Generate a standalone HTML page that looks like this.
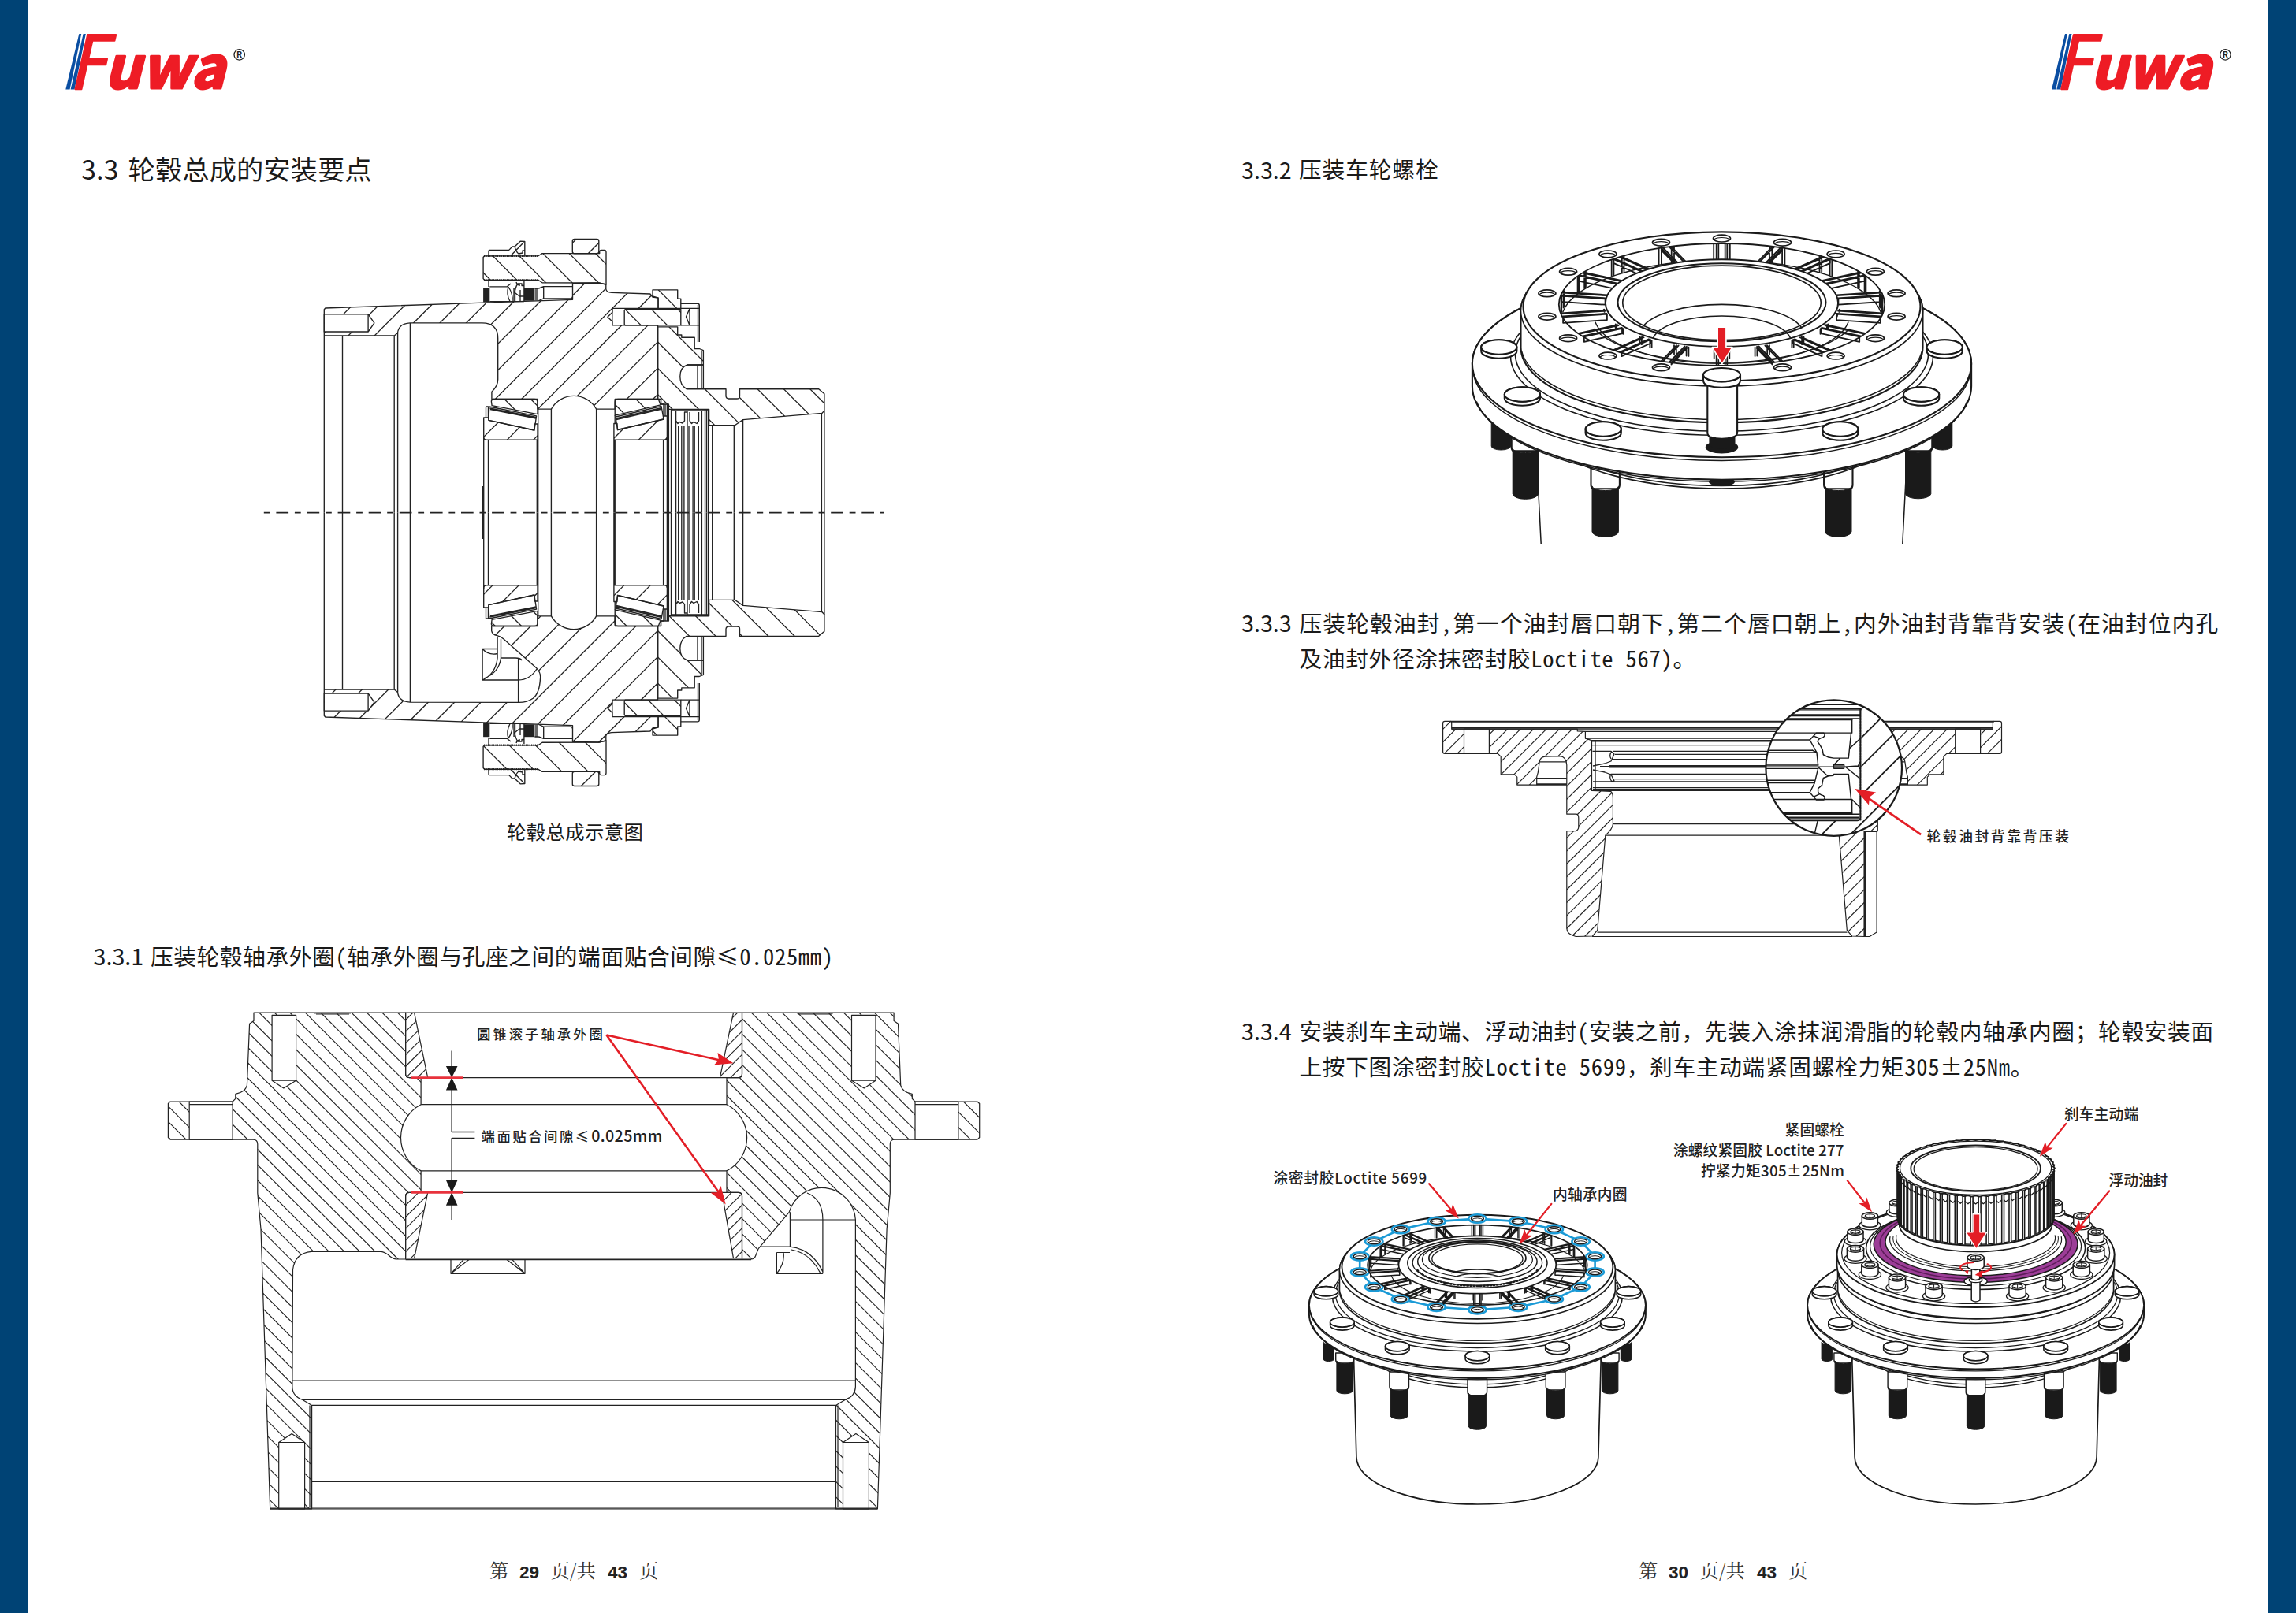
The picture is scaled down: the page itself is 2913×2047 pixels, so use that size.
<!DOCTYPE html>
<html lang="zh-CN">
<head>
<meta charset="utf-8">
<title>Fuwa 3.3 轮毂总成的安装要点</title>
<style>
html,body{margin:0;padding:0;background:#fff;}
body{width:2913px;height:2047px;position:relative;overflow:hidden;font-family:"Liberation Sans","Noto Sans CJK SC",sans-serif;color:#1a1a1a;}
.bar{position:absolute;top:0;width:35px;height:2047px;background:#004375;}
.t{position:absolute;white-space:nowrap;line-height:1;}
.h1{font-size:34.2px;font-family:"Noto Sans CJK SC","Liberation Sans",sans-serif;}
.b{font-size:28.7px;font-family:"Noto Sans CJK SC","Liberation Sans",sans-serif;}
.sp{letter-spacing:0.68px;}
.h1.sp{letter-spacing:0.2px;}
.m{display:inline-block;white-space:nowrap;font-family:"Noto Sans Mono CJK SC","Liberation Mono",monospace;}
.cap{font-size:24.4px;font-family:"Noto Sans CJK SC","Liberation Sans",sans-serif;}
.ft{font-size:24.4px;font-family:"Noto Serif CJK SC","Liberation Serif",serif;color:#333;}
.ftb{font-family:"Liberation Sans","Noto Sans CJK SC",sans-serif;font-weight:bold;color:#222;font-size:22.6px;}
svg.dw{position:absolute;left:0;top:0;width:2913px;height:2047px;overflow:visible;}
svg text{font-family:"Noto Sans CJK SC","Liberation Sans",sans-serif;}
</style>
</head>
<body>
<div class="bar" style="left:0"></div>
<div class="bar" style="left:2878px"></div>

<!-- LOGOS -->
<svg class="dw" viewBox="0 0 2913 2047" id="logos">
<defs>
<g id="logo">
<polygon points="17.3,0 20.2,0 5.6,70.6 0.3,70.6" fill="#0a4ea2"/>
<polygon points="22.6,0 25.8,0 11.6,70.6 6.6,70.6" fill="#0a4ea2"/>
<text x="4" y="69.6" font-family="Liberation Sans, sans-serif" font-weight="normal" font-style="italic" font-size="94" fill="#ee1c25" stroke="#ee1c25" stroke-width="2.4" stroke-linejoin="round" textLength="47" lengthAdjust="spacingAndGlyphs">F</text>
<text x="49.3" y="69.1" font-family="Liberation Sans, sans-serif" font-weight="bold" font-style="italic" font-size="73" fill="#ee1c25" stroke="#ee1c25" stroke-width="3" stroke-linejoin="round" textLength="153" lengthAdjust="spacingAndGlyphs">uwa</text>
<circle cx="220.7" cy="26.4" r="6.7" fill="none" stroke="#222" stroke-width="1.3"/>
<text x="220.7" y="30.3" font-family="Liberation Sans, sans-serif" font-weight="bold" font-size="10.5" fill="#222" text-anchor="middle">R</text>
</g>
</defs>
<use href="#logo" x="83" y="43"/>
<use href="#logo" x="2602.7" y="43"/>
</svg>

<!-- TEXT -->
<div class="t h1" style="left:103px;top:196px;">3.3</div>
<div class="t h1 sp" style="left:162.5px;top:196px;">轮毂总成的安装要点</div>
<div class="t cap" style="left:643px;top:1042.5px;letter-spacing:0.35px;">轮毂总成示意图</div>
<div class="t b" style="left:118.5px;top:1199px;">3.3.1</div>
<div class="t b sp" style="left:191px;top:1199px;letter-spacing:0.6px;">压装轮毂轴承外圈<span class="m" style="width:14.95px">(</span>轴承外圈与孔座之间的端面贴合间隙≤<span class="m" style="width:119.56px">0.025mm)</span></div>

<div class="t b" style="left:1575px;top:200.5px;">3.3.2</div>
<div class="t b sp" style="left:1648px;top:200px;letter-spacing:0.9px;">压装车轮螺栓</div>
<div class="t b" style="left:1575px;top:775.5px;">3.3.3</div>
<div class="t b sp" style="left:1648.5px;top:775.5px;letter-spacing:1.17px;">压装轮毂油封<span class="m" style="width:15.52px">,</span>第一个油封唇口朝下<span class="m" style="width:15.52px">,</span>第二个唇口朝上<span class="m" style="width:15.52px">,</span>内外油封背靠背安装<span class="m" style="width:15.52px">(</span>在油封位内孔</div>
<div class="t b sp" style="left:1648.5px;top:820.5px;">及油封外径涂抹密封胶<span class="m" style="width:180.3px">Loctite 567)</span>。</div>
<div class="t b" style="left:1575px;top:1294px;">3.3.4</div>
<div class="t b sp" style="left:1648.5px;top:1294px;">安装刹车主动端、浮动油封<span class="m" style="width:15.03px">(</span>安装之前，先装入涂抹润滑脂的轮毂内轴承内圈；轮毂安装面</div>
<div class="t b sp" style="left:1648.5px;top:1339px;">上按下图涂密封胶<span class="m" style="width:180.3px">Loctite 5699</span>，刹车主动端紧固螺栓力矩<span class="m" style="width:45.08px">305</span>±<span class="m" style="width:60.11px">25Nm</span>。</div>

<div class="t ft" style="left:621px;top:1980px;">第</div><div class="t ftb" style="left:659px;top:1984.5px;">29</div><div class="t ft" style="left:698.5px;top:1980px;">页/共</div><div class="t ftb" style="left:771px;top:1984.5px;">43</div><div class="t ft" style="left:811px;top:1980px;">页</div>
<div class="t ft" style="left:2079px;top:1980px;">第</div><div class="t ftb" style="left:2117px;top:1984.5px;">30</div><div class="t ft" style="left:2156.5px;top:1980px;">页/共</div><div class="t ftb" style="left:2229px;top:1984.5px;">43</div><div class="t ft" style="left:2269px;top:1980px;">页</div>

<svg width="0" height="0" style="position:absolute"><defs>
<pattern id="hA" width="23.6" height="23.6" patternUnits="userSpaceOnUse" patternTransform="rotate(-45)"><line x1="0" y1="0" x2="23.6" y2="0" stroke="#222" stroke-width="1.55"/></pattern>
<pattern id="hB" width="23.6" height="23.6" patternUnits="userSpaceOnUse" patternTransform="rotate(45)"><line x1="0" y1="0" x2="23.6" y2="0" stroke="#222" stroke-width="1.55"/></pattern>
<pattern id="hAm" width="23.6" height="23.6" patternUnits="userSpaceOnUse" patternTransform="rotate(45)"><line x1="0" y1="0" x2="23.6" y2="0" stroke="#222" stroke-width="1.55"/></pattern>
<pattern id="hBm" width="23.6" height="23.6" patternUnits="userSpaceOnUse" patternTransform="rotate(-45)"><line x1="0" y1="0" x2="23.6" y2="0" stroke="#222" stroke-width="1.55"/></pattern>
</defs></svg>
<svg class="dw" viewBox="0 0 2913 2047" id="drawA">
<g fill="none" stroke="#222" stroke-width="1.35" stroke-linejoin="round">
<g>
<!-- hub body -->
<clipPath id="hc1"><path d="M411.3,392.8 L412.8,391 L613.4,384.1 L726.5,380.3 L726.5,359.7 L760,359 L768.8,361 L768.8,367 Q769.5,371 776,371.4 L824.9,373 L828,377 L835,378 L835,391.4 L776.8,391.4 L776.8,396.5 L770.9,402.2 L776.8,407.9 L776.8,412.9 L834.6,412.9 L834.6,506.5 L780.2,506.5 L780.2,519.1 L756.6,519.1 A32.8,32.8 0 0 0 699.4,519.1 L682,519.1 L682,506.5 L623.9,506.5 L623.9,497.3 Q631.7,490 631.7,481.6 L631.7,429.4 Q631.7,409.9 611.7,409.9 L520.2,409.9 Q506,410.5 504.5,422.4 L500.2,425.9 L411.3,425.9 Z"/></clipPath><path clip-path="url(#hc1)" fill="none" stroke="#222" stroke-width="1.3" d="M215.7,551.9L408.6,359.0M249.1,551.9L442.0,359.0M282.5,551.9L475.4,359.0M315.9,551.9L508.8,359.0M349.2,551.9L542.1,359.0M382.6,551.9L575.5,359.0M416.0,551.9L608.9,359.0M449.4,551.9L642.3,359.0M482.7,551.9L675.6,359.0M516.1,551.9L709.0,359.0M549.5,551.9L742.4,359.0M582.9,551.9L775.8,359.0M616.2,551.9L809.1,359.0M649.6,551.9L842.5,359.0M683.0,551.9L875.9,359.0M716.4,551.9L909.3,359.0M749.7,551.9L942.6,359.0M783.1,551.9L976.0,359.0M816.5,551.9L1009.4,359.0M849.9,551.9L1042.8,359.0"/><path fill="none"  d="M411.3,392.8 L412.8,391 L613.4,384.1 L726.5,380.3 L726.5,359.7 L760,359 L768.8,361 L768.8,367 Q769.5,371 776,371.4 L824.9,373 L828,377 L835,378 L835,391.4 L776.8,391.4 L776.8,396.5 L770.9,402.2 L776.8,407.9 L776.8,412.9 L834.6,412.9 L834.6,506.5 L780.2,506.5 L780.2,519.1 L756.6,519.1 A32.8,32.8 0 0 0 699.4,519.1 L682,519.1 L682,506.5 L623.9,506.5 L623.9,497.3 Q631.7,490 631.7,481.6 L631.7,429.4 Q631.7,409.9 611.7,409.9 L520.2,409.9 Q506,410.5 504.5,422.4 L500.2,425.9 L411.3,425.9 Z"/>
<path fill="#fff" d="M411.3,398.9 L467.1,398.9 L474.9,409.9 L467.1,421 L411.3,421 Z"/>
<path fill="none" d="M467.1,398.9 V421"/>

<!-- flange part above stud -->
<clipPath id="hc2"><path d="M728.8,303.5 L757.3,303.5 Q759.8,303.5 759.8,306 L759.8,319.3 Q759.8,321.8 757.3,321.8 L728.8,321.8 Q726.3,321.8 726.3,319.3 L726.3,306 Q726.3,303.5 728.8,303.5 Z"/></clipPath><path clip-path="url(#hc2)" fill="none" stroke="#222" stroke-width="1.3" d="M679.5,321.8L697.8,303.5M712.8,321.8L731.1,303.5M746.2,321.8L764.5,303.5M779.6,321.8L797.9,303.5"/><path fill="none"  d="M728.8,303.5 L757.3,303.5 Q759.8,303.5 759.8,306 L759.8,319.3 Q759.8,321.8 757.3,321.8 L728.8,321.8 Q726.3,321.8 726.3,319.3 L726.3,306 Q726.3,303.5 728.8,303.5 Z"/>
<!-- wheel stud -->
<clipPath id="hc3"><path d="M613.1,326.5 L614.6,324.8 L682.8,324.8 L688,321.6 L760.7,321.6 L760.7,319 Q761,317.4 763,317.4 L767,317.4 Q769,317.6 769,320 L769,361 L760,359 L688,358.8 L682.8,355.3 L614.6,355.3 L613.1,353.6 Z"/></clipPath><path clip-path="url(#hc3)" fill="none" stroke="#222" stroke-width="1.3" d="M551.0,317.4L594.6,361.0M584.4,317.4L628.0,361.0M617.8,317.4L661.4,361.0M651.2,317.4L694.8,361.0M684.5,317.4L728.1,361.0M717.9,317.4L761.5,361.0M751.3,317.4L794.9,361.0M784.7,317.4L828.3,361.0"/><path fill="none"  d="M613.1,326.5 L614.6,324.8 L682.8,324.8 L688,321.6 L760.7,321.6 L760.7,319 Q761,317.4 763,317.4 L767,317.4 Q769,317.6 769,320 L769,361 L760,359 L688,358.8 L682.8,355.3 L614.6,355.3 L613.1,353.6 Z"/>
<path fill="none" stroke-width="2.2" stroke-dasharray="1.2 1.2" d="M614,324.8 H682 M614,355.3 H682"/>
<!-- nut / clip on top -->
<path fill="none" d="M620,324.5 V318.5 Q620,317.4 621.2,317.4 L645.7,317.4 L650,313 L653,313 L660.1,306.2 L665.8,306.5 L665.8,324.5 M648,324.5 L664.5,307.5 M653,313 Q655,320 658,322 L663,321 L663,318 L665.5,318"/>
<!-- below stud items -->
<rect x="613.1" y="365.8" width="8.2" height="17.6" fill="#222" stroke="none"/>
<rect x="664.9" y="365.8" width="13.5" height="15.9" fill="#222" stroke="none"/>
<path fill="none" d="M620,355.5 V364 M621.3,363.8 H645 M621.3,382.6 H664.9 M645,364 Q642,373 647,382.5 M645,364 Q651,373 650,382.5 M648,360 L643,364 M652,366 V382.5 M653.5,366 V382.5 M660,368 V382.5 M664.9,357 V382 M655,358 Q656,362 660,362 M653,372 Q654,364 657,360 L662,360 L662,362.5 L664.5,362.5 M654,372 L659,376 L664.5,376 M678.4,366 H683.6 M680,366 V381.5 M682,366 V381.5 M683.6,366 L689.7,363.6 H726.3 M683.6,381.5 L689.7,378.9 H724 Q726.3,378.9 726.3,376.5 M689.7,363.6 V378.9"/>
<!-- left side vertical lines -->
<path fill="none" d="M411.3,425.9 V650.5 M434.5,425.9 V650.5 M500.2,425.9 V650.5 M504.6,422.4 V650.5 M520.4,410 V650.5"/>
<!-- right bolt -->
<clipPath id="hc4"><path d="M828,367.9 L859.7,367.9 L859.7,379.1 L863.8,379.1 L863.8,391.4 L835.1,391.4 L835.1,378.1 L828,376 Z"/></clipPath><path clip-path="url(#hc4)" fill="none" stroke="#222" stroke-width="1.3" d="M801.8,367.9L825.3,391.4M835.2,367.9L858.7,391.4M868.5,367.9L892.0,391.4"/><path fill="none"  d="M828,367.9 L859.7,367.9 L859.7,379.1 L863.8,379.1 L863.8,391.4 L835.1,391.4 L835.1,378.1 L828,376 Z"/>
<clipPath id="hc5"><path d="M792.2,393.5 L793.5,392.4 L863.8,392.4 L863.8,412.9 L793.5,412.9 L792.2,411.8 Z"/></clipPath><path clip-path="url(#hc5)" fill="none" stroke="#222" stroke-width="1.3" d="M759.5,392.4L780.0,412.9M792.9,392.4L813.4,412.9M826.3,392.4L846.8,412.9M859.7,392.4L880.2,412.9M893.0,392.4L913.5,412.9"/><path fill="none"  d="M792.2,393.5 L793.5,392.4 L863.8,392.4 L863.8,412.9 L793.5,412.9 L792.2,411.8 Z"/>
<path fill="none" d="M776.8,391.4 V412.9 M863.8,385.2 H885 Q887.3,385.2 887.3,387.5 V434 M863.8,391.4 H887.3 M863.8,412.9 H887.3 M875,391.4 V412.9 M875,391.4 L870.5,402 L875,412.9 M885.5,387 V434"/>
<!-- cover + tube -->
<clipPath id="hc6"><path d="M834.6,414.9 L859.7,414.9 L859.7,425 L864.8,425 L864.8,428.2 L881.2,428.2 L881.2,442.5 L887.3,442.5 L892.4,444.6 L892.4,463 L872,463 Q862.8,466 862.8,478 Q862.8,489 871,493.7 L921,493.7 L921,503 Q921.5,506 924.5,506 L935,506 Q938.5,506 938.5,503 L938.5,493.7 L1038.7,493.7 L1045.9,499.8 L1045.9,521.3 L1042.8,524.4 L942.6,532.6 L932.3,539.7 L899.6,539.7 L899.6,519.3 L848.4,519.3 L848.4,513 L838.5,513 L838.5,506.5 L834.6,506.5 Z"/></clipPath><path clip-path="url(#hc6)" fill="none" stroke="#222" stroke-width="1.3" d="M681.9,414.9L806.7,539.7M715.3,414.9L840.1,539.7M748.7,414.9L873.5,539.7M782.0,414.9L906.8,539.7M815.4,414.9L940.2,539.7M848.8,414.9L973.6,539.7M882.2,414.9L1007.0,539.7M915.5,414.9L1040.3,539.7M948.9,414.9L1073.7,539.7M982.3,414.9L1107.1,539.7M1015.7,414.9L1140.5,539.7M1049.0,414.9L1173.8,539.7"/><path fill="none"  d="M834.6,414.9 L859.7,414.9 L859.7,425 L864.8,425 L864.8,428.2 L881.2,428.2 L881.2,442.5 L887.3,442.5 L892.4,444.6 L892.4,463 L872,463 Q862.8,466 862.8,478 Q862.8,489 871,493.7 L921,493.7 L921,503 Q921.5,506 924.5,506 L935,506 Q938.5,506 938.5,503 L938.5,493.7 L1038.7,493.7 L1045.9,499.8 L1045.9,521.3 L1042.8,524.4 L942.6,532.6 L932.3,539.7 L899.6,539.7 L899.6,519.3 L848.4,519.3 L848.4,513 L838.5,513 L838.5,506.5 L834.6,506.5 Z"/>
<path fill="none" d="M872,463 H892.4 V493.7 M885,463 V493.7 M890,445 V493"/>
<!-- bearing inner (left) -->
<clipPath id="hc7"><path d="M623.4,509.5 Q623.4,506.5 626.4,506.5 L678,506.5 Q682,506.5 682,510.5 L682,525.7 L624.1,514.6 Z"/></clipPath><path clip-path="url(#hc7)" fill="none" stroke="#222" stroke-width="1.3" d="M573.3,506.5L592.5,525.7M606.6,506.5L625.8,525.7M640.0,506.5L659.2,525.7M673.4,506.5L692.6,525.7M706.8,506.5L726.0,525.7"/><path fill="none"  d="M623.4,509.5 Q623.4,506.5 626.4,506.5 L678,506.5 Q682,506.5 682,510.5 L682,525.7 L624.1,514.6 Z"/>
<path fill="#fff" d="M620.7,516 L680.6,527.8 L677.9,546 L620,533.4 Z"/>
<path fill="none" d="M621.5,518 L680,529.5 M622,519.5 L680,531"/>
<clipPath id="hc8"><path d="M613.7,530 L619.5,530 L620,533.4 L677.8,546 L678.5,538 L682,538 L682,558.1 L617,558.1 Q613.7,558.1 613.7,554.8 Z"/></clipPath><path clip-path="url(#hc8)" fill="none" stroke="#222" stroke-width="1.3" d="M576.7,558.1L604.8,530.0M610.0,558.1L638.1,530.0M643.4,558.1L671.5,530.0M676.8,558.1L704.9,530.0M710.2,558.1L738.3,530.0"/><path fill="none"  d="M613.7,530 L619.5,530 L620,533.4 L677.8,546 L678.5,538 L682,538 L682,558.1 L617,558.1 Q613.7,558.1 613.7,554.8 Z"/>
<path fill="none" d="M616.5,516 H619.5 V530 M616.5,516 V530"/>
<path fill="none" d="M613.7,554 V650.5 M619.5,558.1 V650.5 M681.3,558.1 V650.5 M682.7,519.1 V650.5 M699.4,519.1 V650.5 M756.6,519.1 V650.5 M612.3,617 V650.5"/>
<!-- bearing outer (right) -->
<clipPath id="hc9"><path d="M780.2,510.5 Q780.2,506.5 784.2,506.5 L835.3,506.5 L838.1,513.9 L780.2,527.1 Z"/></clipPath><path clip-path="url(#hc9)" fill="none" stroke="#222" stroke-width="1.3" d="M740.1,506.5L760.7,527.1M773.5,506.5L794.1,527.1M806.9,506.5L827.5,527.1M840.3,506.5L860.9,527.1"/><path fill="none"  d="M780.2,510.5 Q780.2,506.5 784.2,506.5 L835.3,506.5 L838.1,513.9 L780.2,527.1 Z"/>
<path fill="#fff" d="M781,529 L839,515.5 L842,532 L783.5,545.5 Z"/>
<path fill="none" d="M781.5,531 L839.5,517.5 M782,532.5 L840,519"/>
<clipPath id="hc10"><path d="M778.9,537.5 L783,537.5 L783.5,545.5 L842,532 L842,528 L846.4,528 L846.4,555 Q846.4,558.1 843.3,558.1 L778.9,558.1 Z"/></clipPath><path clip-path="url(#hc10)" fill="none" stroke="#222" stroke-width="1.3" d="M743.5,558.1L773.6,528.0M776.9,558.1L807.0,528.0M810.3,558.1L840.4,528.0M843.7,558.1L873.8,528.0M877.0,558.1L907.1,528.0"/><path fill="none"  d="M778.9,537.5 L783,537.5 L783.5,545.5 L842,532 L842,528 L846.4,528 L846.4,555 Q846.4,558.1 843.3,558.1 L778.9,558.1 Z"/>
<path fill="none" d="M838.5,506.5 V513 H842 V528 M844,513 V528 M846.4,513 V528"/>
<path fill="none" d="M778.9,558.1 V650.5 M780.2,527 V537.5 M780.2,558.1 V650.5 M841.6,558.1 V650.5 M846.4,555 V650.5"/>
<!-- seals -->
<path fill="none" d="M848.4,519.3 V650.5 M851.5,519.3 V650.5 M857.6,521 V650.5 M860.7,540 V650.5 M864.8,540 V650.5 M867.9,540 V650.5 M872,521 V650.5 M874,540 V650.5 M879.1,540 V650.5 M881.2,540 V650.5 M886.3,540 V650.5 M890.4,521 V650.5 M894.5,519.3 V650.5 M896.5,519.3 V650.5 M898.6,519.3 V650.5 M851.5,521 H898 M857.6,521 V534 L860,537.5 L862,535.5 L866,537 L868.5,534 V523 H872 M875,523 V534 L877.5,537.5 L880,535.5 L884,537.5 L886.5,534 V523"/>
<!-- tube inner verticals -->
<path fill="none" d="M903.7,539.7 V650.5 M931.3,539.7 V650.5 M942.6,532.6 V650.5 M1042.4,524.4 V650.5 M1045.9,521 V650.5"/>
</g>
<g transform="translate(0,1301.0) scale(1,-1)">
<!-- hub body -->
<clipPath id="hc11"><path d="M411.3,392.8 L412.8,391 L613.4,384.1 L726.5,380.3 L726.5,359.7 L760,359 L768.8,361 L768.8,367 Q769.5,371 776,371.4 L824.9,373 L828,377 L835,378 L835,391.4 L776.8,391.4 L776.8,396.5 L770.9,402.2 L776.8,407.9 L776.8,412.9 L834.6,412.9 L834.6,506.5 L780.2,506.5 L780.2,519.1 L756.6,519.1 A32.8,32.8 0 0 0 699.4,519.1 L682,519.1 L682,506.5 L623.7,506.5 L623.7,500.3 Q624.5,495.5 630.7,494.3 Q635,493.5 639,490.1 L680.9,452.9 Q686.5,447 685.5,439.9 Q684.5,421 676.2,414.8 Q669,409.7 658.6,409.7 L520.2,409.9 Q506,410.5 504.5,422.4 L500.2,425.9 L411.3,425.9 Z"/></clipPath><path clip-path="url(#hc11)" fill="none" stroke="#222" stroke-width="1.3" d="M192.1,359.0L385.0,551.9M225.5,359.0L418.4,551.9M258.9,359.0L451.8,551.9M292.2,359.0L485.1,551.9M325.6,359.0L518.5,551.9M359.0,359.0L551.9,551.9M392.4,359.0L585.3,551.9M425.8,359.0L618.7,551.9M459.1,359.0L652.0,551.9M492.5,359.0L685.4,551.9M525.9,359.0L718.8,551.9M559.3,359.0L752.2,551.9M592.6,359.0L785.5,551.9M626.0,359.0L818.9,551.9M659.4,359.0L852.3,551.9M692.8,359.0L885.7,551.9M726.1,359.0L919.0,551.9M759.5,359.0L952.4,551.9M792.9,359.0L985.8,551.9M826.3,359.0L1019.2,551.9M859.6,359.0L1052.5,551.9"/><path fill="none"  d="M411.3,392.8 L412.8,391 L613.4,384.1 L726.5,380.3 L726.5,359.7 L760,359 L768.8,361 L768.8,367 Q769.5,371 776,371.4 L824.9,373 L828,377 L835,378 L835,391.4 L776.8,391.4 L776.8,396.5 L770.9,402.2 L776.8,407.9 L776.8,412.9 L834.6,412.9 L834.6,506.5 L780.2,506.5 L780.2,519.1 L756.6,519.1 A32.8,32.8 0 0 0 699.4,519.1 L682,519.1 L682,506.5 L623.7,506.5 L623.7,500.3 Q624.5,495.5 630.7,494.3 Q635,493.5 639,490.1 L680.9,452.9 Q686.5,447 685.5,439.9 Q684.5,421 676.2,414.8 Q669,409.7 658.6,409.7 L520.2,409.9 Q506,410.5 504.5,422.4 L500.2,425.9 L411.3,425.9 Z"/>
<path fill="#fff" d="M411.3,398.9 L467.1,398.9 L474.9,409.9 L467.1,421 L411.3,421 Z"/>
<path fill="none" d="M467.1,398.9 V421"/>
<path fill="none" d="M612.1,477.5 H631 M612.1,477.5 V438 H657.6 M657.6,466 V409.7 M635.5,466 H654 Q660,466 662.3,463 M631.1,492.4 V466 M635.5,490 V466 M631.1,466 Q629,446 612.1,438 M635.5,466 Q633,447 614,440 M657.6,438 Q672,438 681,452 M612.1,477.5 Q620,469 631.1,471.5"/>
<!-- flange part above stud -->
<clipPath id="hc12"><path d="M728.8,303.5 L757.3,303.5 Q759.8,303.5 759.8,306 L759.8,319.3 Q759.8,321.8 757.3,321.8 L728.8,321.8 Q726.3,321.8 726.3,319.3 L726.3,306 Q726.3,303.5 728.8,303.5 Z"/></clipPath><path clip-path="url(#hc12)" fill="none" stroke="#222" stroke-width="1.3" d="M704.0,303.5L722.3,321.8M737.4,303.5L755.7,321.8M770.8,303.5L789.1,321.8"/><path fill="none"  d="M728.8,303.5 L757.3,303.5 Q759.8,303.5 759.8,306 L759.8,319.3 Q759.8,321.8 757.3,321.8 L728.8,321.8 Q726.3,321.8 726.3,319.3 L726.3,306 Q726.3,303.5 728.8,303.5 Z"/>
<!-- wheel stud -->
<clipPath id="hc13"><path d="M613.1,326.5 L614.6,324.8 L682.8,324.8 L688,321.6 L760.7,321.6 L760.7,319 Q761,317.4 763,317.4 L767,317.4 Q769,317.6 769,320 L769,361 L760,359 L688,358.8 L682.8,355.3 L614.6,355.3 L613.1,353.6 Z"/></clipPath><path clip-path="url(#hc13)" fill="none" stroke="#222" stroke-width="1.3" d="M540.1,361.0L583.7,317.4M573.5,361.0L617.1,317.4M606.9,361.0L650.5,317.4M640.3,361.0L683.9,317.4M673.6,361.0L717.2,317.4M707.0,361.0L750.6,317.4M740.4,361.0L784.0,317.4M773.8,361.0L817.4,317.4"/><path fill="none"  d="M613.1,326.5 L614.6,324.8 L682.8,324.8 L688,321.6 L760.7,321.6 L760.7,319 Q761,317.4 763,317.4 L767,317.4 Q769,317.6 769,320 L769,361 L760,359 L688,358.8 L682.8,355.3 L614.6,355.3 L613.1,353.6 Z"/>
<path fill="none" stroke-width="2.2" stroke-dasharray="1.2 1.2" d="M614,324.8 H682 M614,355.3 H682"/>
<!-- nut / clip on top -->
<path fill="none" d="M620,324.5 V318.5 Q620,317.4 621.2,317.4 L645.7,317.4 L650,313 L653,313 L660.1,306.2 L665.8,306.5 L665.8,324.5 M648,324.5 L664.5,307.5 M653,313 Q655,320 658,322 L663,321 L663,318 L665.5,318"/>
<!-- below stud items -->
<rect x="613.1" y="365.8" width="8.2" height="17.6" fill="#222" stroke="none"/>
<rect x="664.9" y="365.8" width="13.5" height="15.9" fill="#222" stroke="none"/>
<path fill="none" d="M620,355.5 V364 M621.3,363.8 H645 M621.3,382.6 H664.9 M645,364 Q642,373 647,382.5 M645,364 Q651,373 650,382.5 M648,360 L643,364 M652,366 V382.5 M653.5,366 V382.5 M660,368 V382.5 M664.9,357 V382 M655,358 Q656,362 660,362 M653,372 Q654,364 657,360 L662,360 L662,362.5 L664.5,362.5 M654,372 L659,376 L664.5,376 M678.4,366 H683.6 M680,366 V381.5 M682,366 V381.5 M683.6,366 L689.7,363.6 H726.3 M683.6,381.5 L689.7,378.9 H724 Q726.3,378.9 726.3,376.5 M689.7,363.6 V378.9"/>
<!-- left side vertical lines -->
<path fill="none" d="M411.3,425.9 V650.5 M434.5,425.9 V650.5 M500.2,425.9 V650.5 M504.6,422.4 V650.5 M520.4,410 V650.5"/>
<!-- right bolt -->
<clipPath id="hc14"><path d="M828,367.9 L859.7,367.9 L859.7,379.1 L863.8,379.1 L863.8,391.4 L835.1,391.4 L835.1,378.1 L828,376 Z"/></clipPath><path clip-path="url(#hc14)" fill="none" stroke="#222" stroke-width="1.3" d="M776.7,391.4L800.2,367.9M810.1,391.4L833.6,367.9M843.5,391.4L867.0,367.9M876.9,391.4L900.4,367.9"/><path fill="none"  d="M828,367.9 L859.7,367.9 L859.7,379.1 L863.8,379.1 L863.8,391.4 L835.1,391.4 L835.1,378.1 L828,376 Z"/>
<clipPath id="hc15"><path d="M792.2,393.5 L793.5,392.4 L863.8,392.4 L863.8,412.9 L793.5,412.9 L792.2,411.8 Z"/></clipPath><path clip-path="url(#hc15)" fill="none" stroke="#222" stroke-width="1.3" d="M755.2,412.9L775.7,392.4M788.6,412.9L809.1,392.4M822.0,412.9L842.5,392.4M855.4,412.9L875.9,392.4M888.7,412.9L909.2,392.4"/><path fill="none"  d="M792.2,393.5 L793.5,392.4 L863.8,392.4 L863.8,412.9 L793.5,412.9 L792.2,411.8 Z"/>
<path fill="none" d="M776.8,391.4 V412.9 M863.8,385.2 H885 Q887.3,385.2 887.3,387.5 V434 M863.8,391.4 H887.3 M863.8,412.9 H887.3 M875,391.4 V412.9 M875,391.4 L870.5,402 L875,412.9 M885.5,387 V434"/>
<!-- cover + tube -->
<clipPath id="hc16"><path d="M834.6,414.9 L859.7,414.9 L859.7,425 L864.8,425 L864.8,428.2 L881.2,428.2 L881.2,442.5 L887.3,442.5 L892.4,444.6 L892.4,463 L872,463 Q862.8,466 862.8,478 Q862.8,489 871,493.7 L921,493.7 L921,503 Q921.5,506 924.5,506 L935,506 Q938.5,506 938.5,503 L938.5,493.7 L1038.7,493.7 L1045.9,499.8 L1045.9,521.3 L1042.8,524.4 L942.6,532.6 L932.3,539.7 L899.6,539.7 L899.6,519.3 L848.4,519.3 L848.4,513 L838.5,513 L838.5,506.5 L834.6,506.5 Z"/></clipPath><path clip-path="url(#hc16)" fill="none" stroke="#222" stroke-width="1.3" d="M695.2,539.7L820.0,414.9M728.6,539.7L853.4,414.9M761.9,539.7L886.7,414.9M795.3,539.7L920.1,414.9M828.7,539.7L953.5,414.9M862.1,539.7L986.9,414.9M895.4,539.7L1020.2,414.9M928.8,539.7L1053.6,414.9M962.2,539.7L1087.0,414.9M995.6,539.7L1120.4,414.9M1028.9,539.7L1153.7,414.9M1062.3,539.7L1187.1,414.9"/><path fill="none"  d="M834.6,414.9 L859.7,414.9 L859.7,425 L864.8,425 L864.8,428.2 L881.2,428.2 L881.2,442.5 L887.3,442.5 L892.4,444.6 L892.4,463 L872,463 Q862.8,466 862.8,478 Q862.8,489 871,493.7 L921,493.7 L921,503 Q921.5,506 924.5,506 L935,506 Q938.5,506 938.5,503 L938.5,493.7 L1038.7,493.7 L1045.9,499.8 L1045.9,521.3 L1042.8,524.4 L942.6,532.6 L932.3,539.7 L899.6,539.7 L899.6,519.3 L848.4,519.3 L848.4,513 L838.5,513 L838.5,506.5 L834.6,506.5 Z"/>
<path fill="none" d="M872,463 H892.4 V493.7 M885,463 V493.7 M890,445 V493"/>
<!-- bearing inner (left) -->
<clipPath id="hc17"><path d="M623.4,509.5 Q623.4,506.5 626.4,506.5 L678,506.5 Q682,506.5 682,510.5 L682,525.7 L624.1,514.6 Z"/></clipPath><path clip-path="url(#hc17)" fill="none" stroke="#222" stroke-width="1.3" d="M575.7,525.7L594.9,506.5M609.1,525.7L628.3,506.5M642.4,525.7L661.6,506.5M675.8,525.7L695.0,506.5M709.2,525.7L728.4,506.5"/><path fill="none"  d="M623.4,509.5 Q623.4,506.5 626.4,506.5 L678,506.5 Q682,506.5 682,510.5 L682,525.7 L624.1,514.6 Z"/>
<path fill="#fff" d="M620.7,516 L680.6,527.8 L677.9,546 L620,533.4 Z"/>
<path fill="none" d="M621.5,518 L680,529.5 M622,519.5 L680,531"/>
<clipPath id="hc18"><path d="M613.7,530 L619.5,530 L620,533.4 L677.8,546 L678.5,538 L682,538 L682,558.1 L617,558.1 Q613.7,558.1 613.7,554.8 Z"/></clipPath><path clip-path="url(#hc18)" fill="none" stroke="#222" stroke-width="1.3" d="M563.4,530.0L591.5,558.1M596.8,530.0L624.9,558.1M630.1,530.0L658.2,558.1M663.5,530.0L691.6,558.1M696.9,530.0L725.0,558.1"/><path fill="none"  d="M613.7,530 L619.5,530 L620,533.4 L677.8,546 L678.5,538 L682,538 L682,558.1 L617,558.1 Q613.7,558.1 613.7,554.8 Z"/>
<path fill="none" d="M616.5,516 H619.5 V530 M616.5,516 V530"/>
<path fill="none" d="M613.7,554 V650.5 M619.5,558.1 V650.5 M681.3,558.1 V650.5 M682.7,519.1 V650.5 M699.4,519.1 V650.5 M756.6,519.1 V650.5 M612.3,617 V650.5"/>
<!-- bearing outer (right) -->
<clipPath id="hc19"><path d="M780.2,510.5 Q780.2,506.5 784.2,506.5 L835.3,506.5 L838.1,513.9 L780.2,527.1 Z"/></clipPath><path clip-path="url(#hc19)" fill="none" stroke="#222" stroke-width="1.3" d="M741.2,527.1L761.8,506.5M774.5,527.1L795.1,506.5M807.9,527.1L828.5,506.5M841.3,527.1L861.9,506.5"/><path fill="none"  d="M780.2,510.5 Q780.2,506.5 784.2,506.5 L835.3,506.5 L838.1,513.9 L780.2,527.1 Z"/>
<path fill="#fff" d="M781,529 L839,515.5 L842,532 L783.5,545.5 Z"/>
<path fill="none" d="M781.5,531 L839.5,517.5 M782,532.5 L840,519"/>
<clipPath id="hc20"><path d="M778.9,537.5 L783,537.5 L783.5,545.5 L842,532 L842,528 L846.4,528 L846.4,555 Q846.4,558.1 843.3,558.1 L778.9,558.1 Z"/></clipPath><path clip-path="url(#hc20)" fill="none" stroke="#222" stroke-width="1.3" d="M728.3,528.0L758.4,558.1M761.6,528.0L791.7,558.1M795.0,528.0L825.1,558.1M828.4,528.0L858.5,558.1M861.8,528.0L891.9,558.1"/><path fill="none"  d="M778.9,537.5 L783,537.5 L783.5,545.5 L842,532 L842,528 L846.4,528 L846.4,555 Q846.4,558.1 843.3,558.1 L778.9,558.1 Z"/>
<path fill="none" d="M838.5,506.5 V513 H842 V528 M844,513 V528 M846.4,513 V528"/>
<path fill="none" d="M778.9,558.1 V650.5 M780.2,527 V537.5 M780.2,558.1 V650.5 M841.6,558.1 V650.5 M846.4,555 V650.5"/>
<!-- seals -->
<path fill="none" d="M848.4,519.3 V650.5 M851.5,519.3 V650.5 M857.6,521 V650.5 M860.7,540 V650.5 M864.8,540 V650.5 M867.9,540 V650.5 M872,521 V650.5 M874,540 V650.5 M879.1,540 V650.5 M881.2,540 V650.5 M886.3,540 V650.5 M890.4,521 V650.5 M894.5,519.3 V650.5 M896.5,519.3 V650.5 M898.6,519.3 V650.5 M851.5,521 H898 M857.6,521 V534 L860,537.5 L862,535.5 L866,537 L868.5,534 V523 H872 M875,523 V534 L877.5,537.5 L880,535.5 L884,537.5 L886.5,534 V523"/>
<!-- tube inner verticals -->
<path fill="none" d="M903.7,539.7 V650.5 M931.3,539.7 V650.5 M942.6,532.6 V650.5 M1042.4,524.4 V650.5 M1045.9,521 V650.5"/>
</g>
<path d="M334.8,650.6 H1122" stroke-dasharray="7.8 7.8 15.7 7.8" stroke-width="1.7"/>
</g>
</svg>
<svg class="dw" viewBox="0 0 2913 2047" id="drawB">
<defs>
<pattern id="hC" width="13.8" height="13.8" patternUnits="userSpaceOnUse" patternTransform="rotate(45)"><line x1="0" y1="0" x2="13.8" y2="0" stroke="#222" stroke-width="1.4"/></pattern>
<pattern id="hD" width="10.6" height="10.6" patternUnits="userSpaceOnUse" patternTransform="rotate(-45)"><line x1="0" y1="0" x2="10.6" y2="0" stroke="#222" stroke-width="1.4"/></pattern>
</defs>
<g fill="none" stroke="#222" stroke-width="1.2" stroke-linejoin="round">
<clipPath id="hc21"><path d="M322,1285.1 L514.6,1285.1 L514.6,1363 Q514.6,1367.6 519.5,1367.6 L534.1,1367.6 L534.1,1401.7 A47.4,47.4 0 0 0 534.1,1485.9 L534.1,1513.4 L519.5,1513.4 Q514.6,1513.4 514.6,1518 L514.6,1598 L502.4,1598 Q497,1597 492,1592 Q487,1588.3 482.9,1588.3 L395.1,1588.3 Q374,1590 371.5,1611.5 L370.9,1760 Q371,1772 383.9,1776.4 L395.6,1783.4 L395.6,1914.8 L342.7,1914.8 L331,1560 L326.8,1513.9 L326.8,1452 Q326.8,1446.1 321,1446.1 L216,1446.1 L213.4,1443.5 L213.4,1400.5 L216,1398 L295.1,1398 L298.8,1394.4 L298.8,1388.3 Q311,1386 313.4,1377.3 L316.6,1299.3 L322,1295.6 Z"/></clipPath><path clip-path="url(#hc21)" fill="none" stroke="#222" stroke-width="1.15" d="M-432.3,1285.1L197.4,1914.8M-412.8,1285.1L216.9,1914.8M-393.3,1285.1L236.4,1914.8M-373.8,1285.1L255.9,1914.8M-354.3,1285.1L275.4,1914.8M-334.7,1285.1L295.0,1914.8M-315.2,1285.1L314.5,1914.8M-295.7,1285.1L334.0,1914.8M-276.2,1285.1L353.5,1914.8M-256.7,1285.1L373.0,1914.8M-237.2,1285.1L392.5,1914.8M-217.6,1285.1L412.1,1914.8M-198.1,1285.1L431.6,1914.8M-178.6,1285.1L451.1,1914.8M-159.1,1285.1L470.6,1914.8M-139.6,1285.1L490.1,1914.8M-120.1,1285.1L509.6,1914.8M-100.5,1285.1L529.2,1914.8M-81.0,1285.1L548.7,1914.8M-61.5,1285.1L568.2,1914.8M-42.0,1285.1L587.7,1914.8M-22.5,1285.1L607.2,1914.8M-3.0,1285.1L626.7,1914.8M16.6,1285.1L646.3,1914.8M36.1,1285.1L665.8,1914.8M55.6,1285.1L685.3,1914.8M75.1,1285.1L704.8,1914.8M94.6,1285.1L724.3,1914.8M114.1,1285.1L743.8,1914.8M133.6,1285.1L763.3,1914.8M153.2,1285.1L782.9,1914.8M172.7,1285.1L802.4,1914.8M192.2,1285.1L821.9,1914.8M211.7,1285.1L841.4,1914.8M231.2,1285.1L860.9,1914.8M250.7,1285.1L880.4,1914.8M270.3,1285.1L900.0,1914.8M289.8,1285.1L919.5,1914.8M309.3,1285.1L939.0,1914.8M328.8,1285.1L958.5,1914.8M348.3,1285.1L978.0,1914.8M367.8,1285.1L997.5,1914.8M387.4,1285.1L1017.1,1914.8M406.9,1285.1L1036.6,1914.8M426.4,1285.1L1056.1,1914.8M445.9,1285.1L1075.6,1914.8M465.4,1285.1L1095.1,1914.8M484.9,1285.1L1114.6,1914.8M504.5,1285.1L1134.2,1914.8M524.0,1285.1L1153.7,1914.8M543.5,1285.1L1173.2,1914.8M563.0,1285.1L1192.7,1914.8M582.5,1285.1L1212.2,1914.8"/><path fill="none"  d="M322,1285.1 L514.6,1285.1 L514.6,1363 Q514.6,1367.6 519.5,1367.6 L534.1,1367.6 L534.1,1401.7 A47.4,47.4 0 0 0 534.1,1485.9 L534.1,1513.4 L519.5,1513.4 Q514.6,1513.4 514.6,1518 L514.6,1598 L502.4,1598 Q497,1597 492,1592 Q487,1588.3 482.9,1588.3 L395.1,1588.3 Q374,1590 371.5,1611.5 L370.9,1760 Q371,1772 383.9,1776.4 L395.6,1783.4 L395.6,1914.8 L342.7,1914.8 L331,1560 L326.8,1513.9 L326.8,1452 Q326.8,1446.1 321,1446.1 L216,1446.1 L213.4,1443.5 L213.4,1400.5 L216,1398 L295.1,1398 L298.8,1394.4 L298.8,1388.3 Q311,1386 313.4,1377.3 L316.6,1299.3 L322,1295.6 Z"/>
<clipPath id="hc22"><path d="M1134.1,1285.1 L941.5,1285.1 L941.5,1363 Q941.5,1367.6 936.6,1367.6 L922,1367.6 L922,1401.7 A47.4,47.4 0 0 1 922,1485.9 L922,1513.4 L936.6,1513.4 Q941.5,1513.4 941.5,1518 L941.5,1598 L953,1598 Q957,1598 958.5,1594 L962.2,1584.6 L1001.2,1538.3 A43,43 0 0 1 1085.4,1548 L1085.4,1760 Q1085,1772 1072.2,1776.4 L1060.5,1783.4 L1060.5,1914.8 L1113.4,1914.8 L1125.1,1560 L1129.3,1513.9 L1129.3,1452 Q1129.3,1446.1 1135,1446.1 L1240,1446.1 L1242.7,1443.5 L1242.7,1400.5 L1240,1398 L1161,1398 L1157.3,1394.4 L1157.3,1388.3 Q1145,1386 1142.7,1377.3 L1139.5,1299.3 L1134.1,1295.6 Z"/></clipPath><path clip-path="url(#hc22)" fill="none" stroke="#222" stroke-width="1.15" d="M231.2,1285.1L860.9,1914.8M250.7,1285.1L880.4,1914.8M270.3,1285.1L900.0,1914.8M289.8,1285.1L919.5,1914.8M309.3,1285.1L939.0,1914.8M328.8,1285.1L958.5,1914.8M348.3,1285.1L978.0,1914.8M367.8,1285.1L997.5,1914.8M387.4,1285.1L1017.1,1914.8M406.9,1285.1L1036.6,1914.8M426.4,1285.1L1056.1,1914.8M445.9,1285.1L1075.6,1914.8M465.4,1285.1L1095.1,1914.8M484.9,1285.1L1114.6,1914.8M504.5,1285.1L1134.2,1914.8M524.0,1285.1L1153.7,1914.8M543.5,1285.1L1173.2,1914.8M563.0,1285.1L1192.7,1914.8M582.5,1285.1L1212.2,1914.8M602.0,1285.1L1231.7,1914.8M621.6,1285.1L1251.3,1914.8M641.1,1285.1L1270.8,1914.8M660.6,1285.1L1290.3,1914.8M680.1,1285.1L1309.8,1914.8M699.6,1285.1L1329.3,1914.8M719.1,1285.1L1348.8,1914.8M738.6,1285.1L1368.3,1914.8M758.2,1285.1L1387.9,1914.8M777.7,1285.1L1407.4,1914.8M797.2,1285.1L1426.9,1914.8M816.7,1285.1L1446.4,1914.8M836.2,1285.1L1465.9,1914.8M855.7,1285.1L1485.4,1914.8M875.3,1285.1L1505.0,1914.8M894.8,1285.1L1524.5,1914.8M914.3,1285.1L1544.0,1914.8M933.8,1285.1L1563.5,1914.8M953.3,1285.1L1583.0,1914.8M972.8,1285.1L1602.5,1914.8M992.4,1285.1L1622.1,1914.8M1011.9,1285.1L1641.6,1914.8M1031.4,1285.1L1661.1,1914.8M1050.9,1285.1L1680.6,1914.8M1070.4,1285.1L1700.1,1914.8M1089.9,1285.1L1719.6,1914.8M1109.5,1285.1L1739.2,1914.8M1129.0,1285.1L1758.7,1914.8M1148.5,1285.1L1778.2,1914.8M1168.0,1285.1L1797.7,1914.8M1187.5,1285.1L1817.2,1914.8M1207.0,1285.1L1836.7,1914.8M1226.6,1285.1L1856.3,1914.8M1246.1,1285.1L1875.8,1914.8"/><path fill="none"  d="M1134.1,1285.1 L941.5,1285.1 L941.5,1363 Q941.5,1367.6 936.6,1367.6 L922,1367.6 L922,1401.7 A47.4,47.4 0 0 1 922,1485.9 L922,1513.4 L936.6,1513.4 Q941.5,1513.4 941.5,1518 L941.5,1598 L953,1598 Q957,1598 958.5,1594 L962.2,1584.6 L1001.2,1538.3 A43,43 0 0 1 1085.4,1548 L1085.4,1760 Q1085,1772 1072.2,1776.4 L1060.5,1783.4 L1060.5,1914.8 L1113.4,1914.8 L1125.1,1560 L1129.3,1513.9 L1129.3,1452 Q1129.3,1446.1 1135,1446.1 L1240,1446.1 L1242.7,1443.5 L1242.7,1400.5 L1240,1398 L1161,1398 L1157.3,1394.4 L1157.3,1388.3 Q1145,1386 1142.7,1377.3 L1139.5,1299.3 L1134.1,1295.6 Z"/>
<!-- white holes -->
<path fill="#fff" d="M240.2,1398 H295.1 V1446.1 H240.2 Z M345.1,1288.3 H375.6 V1371.2 L359.8,1381 L345.1,1371.2 Z M353.7,1914.8 V1830.5 L370.2,1819.5 L386.6,1830.5 V1914.8 Z"/>
<path fill="#fff" d="M1215.9,1398 H1161.0 V1446.1 H1215.9 Z M1111.0,1288.3 H1080.5 V1371.2 L1096.3,1381 L1111.0,1371.2 Z M1102.4,1914.8 V1830.5 L1085.9,1819.5 L1069.5,1830.5 V1914.8 Z"/>
<path d="M240.2,1401.7 H295.1 M1215.9,1401.7 H1161.0 M345.1,1371.2 H375.6 M1111.0,1371.2 H1080.5 M353.7,1830.5 H386.6 M1102.4,1830.5 H1069.5"/>
<!-- cups -->
<clipPath id="hc23"><path d="M514.6,1285.1 L525.6,1285.1 L542.7,1367.6 L519.5,1367.6 Q514.6,1367.6 514.6,1363 Z"/></clipPath><path clip-path="url(#hc23)" fill="none" stroke="#222" stroke-width="1.15" d="M426.8,1367.6L509.3,1285.1M441.5,1367.6L524.0,1285.1M456.2,1367.6L538.7,1285.1M470.9,1367.6L553.4,1285.1M485.6,1367.6L568.1,1285.1M500.3,1367.6L582.8,1285.1M515.0,1367.6L597.5,1285.1M529.7,1367.6L612.2,1285.1M544.4,1367.6L626.9,1285.1"/><path fill="none"  d="M514.6,1285.1 L525.6,1285.1 L542.7,1367.6 L519.5,1367.6 Q514.6,1367.6 514.6,1363 Z"/>
<clipPath id="hc24"><path d="M514.6,1518 Q514.6,1513.4 519.5,1513.4 L542.7,1513.4 L525.6,1596.8 L514.6,1596.8 Z"/></clipPath><path clip-path="url(#hc24)" fill="none" stroke="#222" stroke-width="1.15" d="M418.2,1596.8L501.6,1513.4M432.9,1596.8L516.3,1513.4M447.6,1596.8L531.0,1513.4M462.3,1596.8L545.7,1513.4M477.0,1596.8L560.4,1513.4M491.7,1596.8L575.1,1513.4M506.4,1596.8L589.8,1513.4M521.1,1596.8L604.5,1513.4M535.8,1596.8L619.2,1513.4M550.5,1596.8L633.9,1513.4"/><path fill="none"  d="M514.6,1518 Q514.6,1513.4 519.5,1513.4 L542.7,1513.4 L525.6,1596.8 L514.6,1596.8 Z"/>
<clipPath id="hc25"><path d="M941.5,1285.1 L930.5,1285.1 L913.4,1367.6 L936.6,1367.6 Q941.5,1367.6 941.5,1363 Z"/></clipPath><path clip-path="url(#hc25)" fill="none" stroke="#222" stroke-width="1.15" d="M823.9,1367.6L906.4,1285.1M838.6,1367.6L921.1,1285.1M853.3,1367.6L935.8,1285.1M868.0,1367.6L950.5,1285.1M882.7,1367.6L965.2,1285.1M897.4,1367.6L979.9,1285.1M912.1,1367.6L994.6,1285.1M926.8,1367.6L1009.3,1285.1M941.5,1367.6L1024.0,1285.1"/><path fill="none"  d="M941.5,1285.1 L930.5,1285.1 L913.4,1367.6 L936.6,1367.6 Q941.5,1367.6 941.5,1363 Z"/>
<clipPath id="hc26"><path d="M941.5,1518 Q941.5,1513.4 936.6,1513.4 L915.9,1513.4 L930.5,1596.8 L941.5,1596.8 Z"/></clipPath><path clip-path="url(#hc26)" fill="none" stroke="#222" stroke-width="1.15" d="M830.0,1596.8L913.4,1513.4M844.7,1596.8L928.1,1513.4M859.4,1596.8L942.8,1513.4M874.1,1596.8L957.5,1513.4M888.8,1596.8L972.2,1513.4M903.5,1596.8L986.9,1513.4M918.2,1596.8L1001.6,1513.4M932.9,1596.8L1016.3,1513.4M947.7,1596.8L1031.1,1513.4"/><path fill="none"  d="M941.5,1518 Q941.5,1513.4 936.6,1513.4 L915.9,1513.4 L930.5,1596.8 L941.5,1596.8 Z"/>
<!-- horizontals -->
<path d="M525.6,1285.1 H930.5 M542.7,1367.6 H913.4 M534.1,1401.7 H922 M534.1,1485.9 H922 M542.7,1513.4 H915.9 M525.6,1596.8 H930.5 M514.6,1598.6 H953"/>
<path stroke-width="1" d="M399,1285.9 H445 M401,1287 H443 M1011,1285.9 H1057 M1013,1287 H1055"/>
<!-- lower body lines -->
<path d="M370.9,1752.1 H1085.4 M383.9,1776.4 H1072.2 M395.6,1783.4 H1060.5 M395.6,1880.3 H1060.5 M342.7,1914.8 H1113.4 M342.7,1912.8 H1113.4 M393,1783.4 V1912 M1063,1783.4 V1912"/>
<!-- small items -->
<path d="M572,1598.6 V1616.3 H666 V1598.6 M572,1616.3 L588,1598.6 M666,1616.3 L650,1598.6 M572,1616.3 L595,1598.6 M666,1616.3 L643,1598.6"/>
<path d="M1002.4,1548 H1085.4 M1002.4,1538.3 V1582.2 M964.6,1582.2 H1002.4 M1043.9,1548 V1616.3 M985.4,1589.5 V1616.3 H1043.9 M985.4,1589.5 H1002 M1002.4,1582.2 Q1030,1585 1043.9,1614 M1004,1586 Q1028,1590 1041,1616 M985.4,1616.3 Q996,1603 994,1589.5 M1024,1514 Q1044,1522 1043.9,1548"/>
<!-- dimension -->
<path stroke-width="1.5" d="M573.2,1333.4 V1436.6 H602.4 M602.4,1444.4 H573.2 V1548"/>
<path fill="#1a1a1a" stroke="none" d="M565.9,1353 H580.5 L573.2,1367.6 Z M565.9,1383.4 H580.5 L573.2,1367.6 Z M565.9,1497.8 H580.5 L573.2,1513.4 Z M565.9,1529.8 H580.5 L573.2,1513.4 Z"/>
<!-- red -->
<path stroke="#e8323c" stroke-width="2.8" d="M522,1367.6 H587.8 M522,1513.4 H587.8"/>
<path stroke="#e31e26" stroke-width="2.6" d="M769.5,1313.4 L918,1346.5 M769.5,1313.4 L914,1516"/>
<path fill="#e31e26" stroke="none" d="M930.5,1349.3 L906,1351.5 L912,1345 L910.5,1336 Z M920.7,1528.5 L901.5,1513.5 L910.5,1513 L914.5,1505 Z"/>
</g>
<text x="605" y="1318.8" font-size="17.4" font-weight="500" fill="#222" textLength="160" lengthAdjust="spacing">圆锥滚子轴承外圈</text>
<text x="610.5" y="1448.6" font-weight="500" fill="#222"><tspan font-size="17.4" letter-spacing="2.5">端面贴合间隙≤</tspan><tspan font-size="19.7" letter-spacing="0.35" dx="0.5">0.025mm</tspan></text>
</svg>
<svg class="dw" viewBox="0 0 2913 2047" id="drawC"><g fill="none" stroke="#1a1a1a" stroke-width="2.1" stroke-linejoin="round" stroke-linecap="round">
<path stroke-width="1.5" d="M1950.6,600 L1955.2,690 M2418.4,600 L2413.8,690"/>
<path fill="#1a1a1a" stroke-width="1" d="M1892.2,528 V566.1 A12.2,4.9 0 0 0 1916.6,566.1 V528 A12.2,3.9 0 0 1 1892.2,528 Z"/>
<path fill="#1a1a1a" stroke-width="1" d="M2452.4,528 V566.1 A12.2,4.9 0 0 0 2476.8,566.1 V528 A12.2,3.9 0 0 1 2452.4,528 Z"/>
<path fill="#fff" d="M1917.7,530 V567.4 Q1917.7,571.4 1920.2,572.4 H1950.5 Q1953.0,571.4 1953.0,567.4 V530 Z"/><path fill="#1a1a1a" stroke-width="1" d="M1919.2,569.4 V626.8 A16.1,6.5 0 0 0 1951.5,626.8 V569.4 A16.1,5.2 0 0 1 1919.2,569.4 Z"/>
<path fill="#fff" d="M2416.0,530 V567.4 Q2416.0,571.4 2418.5,572.4 H2448.8 Q2451.3,571.4 2451.3,567.4 V530 Z"/><path fill="#1a1a1a" stroke-width="1" d="M2417.5,569.4 V626.8 A16.2,6.5 0 0 0 2449.8,626.8 V569.4 A16.2,5.2 0 0 1 2417.5,569.4 Z"/>
<path fill="#fff" d="M2018.5,575 V615.3 Q2018.5,619.3 2021,620.3 H2052.4 Q2054.9,619.3 2054.9,615.3 V575 Z"/><path fill="#1a1a1a" stroke-width="1" d="M2020.0,617.3 V674.7 A16.7,6.7 0 0 0 2053.4,674.7 V617.3 A16.7,5.3 0 0 1 2020.0,617.3 Z"/>
<path fill="#fff" d="M2314.1,575 V615.3 Q2314.1,619.3 2316.6,620.3 H2348.0 Q2350.5,619.3 2350.5,615.3 V575 Z"/><path fill="#1a1a1a" stroke-width="1" d="M2315.6,617.3 V674.7 A16.7,6.7 0 0 0 2349.0,674.7 V617.3 A16.7,5.3 0 0 1 2315.6,617.3 Z"/>
<path stroke-width="1.6" d="M2406.3,558.3 A236,88.50 0 0 1 1962.7,558.3"/>
<path stroke-width="1.6" d="M2398.4,568.9 A236,88.50 0 0 1 1970.6,568.9"/>
<ellipse cx="2184.5" cy="611.5" rx="16.5" ry="5.5" fill="#1a1a1a" stroke="none"/>
<path fill="#fff" d="M1867.9,461.5 A316.6,118.73 0 0 1 2501.1,461.5 L2501.1,490 A316.6,118.73 0 0 1 1867.9,490 Z"/>
<path stroke-width="1.5" d="M2495.4,509.9 A314,117.75 0 0 1 1873.6,509.9"/>
<ellipse cx="2184.5" cy="461.5" rx="316.6" ry="118.73" fill="#fff"/>
<path stroke-width="1.5" d="M2500.3,470.1 A316,118.50 0 0 1 1868.7,470.1"/>
<ellipse cx="2184.5" cy="452" rx="268" ry="100.5" fill="#fff" stroke-width="1.6"/>
<path stroke-width="1.6" d="M2437.6,423.6 A262,98.25 0 1 1 1931.4,423.6"/>
<path fill="#fff" d="M1879.2,440.5 A22.6,9.3 0 0 1 1924.3999999999999,440.5 V445.5 A22.6,9.3 0 0 1 1879.2,445.5 Z"/><ellipse cx="1901.8" cy="440.5" rx="22.6" ry="9.3" fill="#fff"/><path stroke-width="1.3" d="M1879.7,442.7 A22.6,9.3 0 0 0 1923.8999999999999,442.7"/>
<path fill="#fff" d="M2444.6,440.5 A22.6,9.3 0 0 1 2489.7999999999997,440.5 V445.5 A22.6,9.3 0 0 1 2444.6,445.5 Z"/><ellipse cx="2467.2" cy="440.5" rx="22.6" ry="9.3" fill="#fff"/><path stroke-width="1.3" d="M2445.1,442.7 A22.6,9.3 0 0 0 2489.2999999999997,442.7"/>
<path fill="#fff" d="M1908.8000000000002,500.5 A22.6,9.3 0 0 1 1954.0,500.5 V505.5 A22.6,9.3 0 0 1 1908.8000000000002,505.5 Z"/><ellipse cx="1931.4" cy="500.5" rx="22.6" ry="9.3" fill="#fff"/><path stroke-width="1.3" d="M1909.3000000000002,502.7 A22.6,9.3 0 0 0 1953.5,502.7"/>
<path fill="#fff" d="M2415.0,500.5 A22.6,9.3 0 0 1 2460.2,500.5 V505.5 A22.6,9.3 0 0 1 2415.0,505.5 Z"/><ellipse cx="2437.6" cy="500.5" rx="22.6" ry="9.3" fill="#fff"/><path stroke-width="1.3" d="M2415.5,502.7 A22.6,9.3 0 0 0 2459.7,502.7"/>
<path fill="#fff" d="M2011.6000000000001,544.5 A22.6,9.3 0 0 1 2056.8,544.5 V549.5 A22.6,9.3 0 0 1 2011.6000000000001,549.5 Z"/><ellipse cx="2034.2" cy="544.5" rx="22.6" ry="9.3" fill="#fff"/><path stroke-width="1.3" d="M2012.1000000000001,546.7 A22.6,9.3 0 0 0 2056.3,546.7"/>
<path fill="#fff" d="M2312.2000000000003,544.5 A22.6,9.3 0 0 1 2357.4,544.5 V549.5 A22.6,9.3 0 0 1 2312.2000000000003,549.5 Z"/><ellipse cx="2334.8" cy="544.5" rx="22.6" ry="9.3" fill="#fff"/><path stroke-width="1.3" d="M2312.7000000000003,546.7 A22.6,9.3 0 0 0 2356.9,546.7"/>
<path fill="#fff" d="M1929.5,394.5 A255,95.62 0 0 1 2439.5,394.5 L2439.5,440.7 A255,95.62 0 0 1 1929.5,440.7 Z"/>
<path stroke-width="1.5" d="M2438.5,445.3 A255,95.62 0 0 1 1930.5,445.3"/>
<ellipse cx="2184.5" cy="394.5" rx="255" ry="95.62" fill="#fff" stroke-width="1.6"/>
<ellipse cx="2184.5" cy="388.9" rx="252" ry="94.5" fill="#fff"/>
<ellipse cx="2184.5" cy="302.6" rx="11" ry="4.4" stroke-width="1.7"/>
<path stroke-width="1.2" d="M2175.0,303.8 A10.5,4 0 0 1 2194.0,303.8"/>
<ellipse cx="2107.5" cy="307.7" rx="11" ry="4.4" stroke-width="1.7"/>
<path stroke-width="1.2" d="M2098.0,308.9 A10.5,4 0 0 1 2117.0,308.9"/>
<ellipse cx="2039.9" cy="322.4" rx="11" ry="4.4" stroke-width="1.7"/>
<path stroke-width="1.2" d="M2030.4,323.6 A10.5,4 0 0 1 2049.4,323.6"/>
<ellipse cx="1989.6" cy="344.8" rx="11" ry="4.4" stroke-width="1.7"/>
<path stroke-width="1.2" d="M1980.1,346.0 A10.5,4 0 0 1 1999.1,346.0"/>
<ellipse cx="1962.9" cy="372.3" rx="11" ry="4.4" stroke-width="1.7"/>
<path stroke-width="1.2" d="M1953.4,373.5 A10.5,4 0 0 1 1972.4,373.5"/>
<ellipse cx="1962.9" cy="401.7" rx="11" ry="4.4" stroke-width="1.7"/>
<path stroke-width="1.2" d="M1953.4,402.9 A10.5,4 0 0 1 1972.4,402.9"/>
<ellipse cx="1989.6" cy="429.2" rx="11" ry="4.4" stroke-width="1.7"/>
<path stroke-width="1.2" d="M1980.1,430.4 A10.5,4 0 0 1 1999.1,430.4"/>
<ellipse cx="2039.9" cy="451.6" rx="11" ry="4.4" stroke-width="1.7"/>
<path stroke-width="1.2" d="M2030.4,452.8 A10.5,4 0 0 1 2049.4,452.8"/>
<ellipse cx="2107.5" cy="466.3" rx="11" ry="4.4" stroke-width="1.7"/>
<path stroke-width="1.2" d="M2098.0,467.5 A10.5,4 0 0 1 2117.0,467.5"/>
<ellipse cx="2261.5" cy="466.3" rx="11" ry="4.4" stroke-width="1.7"/>
<path stroke-width="1.2" d="M2252.0,467.5 A10.5,4 0 0 1 2271.0,467.5"/>
<ellipse cx="2329.1" cy="451.6" rx="11" ry="4.4" stroke-width="1.7"/>
<path stroke-width="1.2" d="M2319.6,452.8 A10.5,4 0 0 1 2338.6,452.8"/>
<ellipse cx="2379.4" cy="429.2" rx="11" ry="4.4" stroke-width="1.7"/>
<path stroke-width="1.2" d="M2369.9,430.4 A10.5,4 0 0 1 2388.9,430.4"/>
<ellipse cx="2406.1" cy="401.7" rx="11" ry="4.4" stroke-width="1.7"/>
<path stroke-width="1.2" d="M2396.6,402.9 A10.5,4 0 0 1 2415.6,402.9"/>
<ellipse cx="2406.1" cy="372.3" rx="11" ry="4.4" stroke-width="1.7"/>
<path stroke-width="1.2" d="M2396.6,373.5 A10.5,4 0 0 1 2415.6,373.5"/>
<ellipse cx="2379.4" cy="344.8" rx="11" ry="4.4" stroke-width="1.7"/>
<path stroke-width="1.2" d="M2369.9,346.0 A10.5,4 0 0 1 2388.9,346.0"/>
<ellipse cx="2329.1" cy="322.4" rx="11" ry="4.4" stroke-width="1.7"/>
<path stroke-width="1.2" d="M2319.6,323.6 A10.5,4 0 0 1 2338.6,323.6"/>
<ellipse cx="2261.5" cy="307.7" rx="11" ry="4.4" stroke-width="1.7"/>
<path stroke-width="1.2" d="M2252.0,308.9 A10.5,4 0 0 1 2271.0,308.9"/>
<ellipse cx="2184.5" cy="386.5" rx="206.7" ry="77.51" fill="#fff" stroke-width="1.8"/>
<path stroke-width="1.4" d="M1982.8,395.9 A203.7,76.39 0 0 1 2386.2,395.9"/>
<path stroke-width="1.4" d="M2344.9,409.0 A162,60.75 0 0 1 2024.1,409.0"/>
<path stroke-width="1.4" d="M2346.1,417.6 A172,64.50 0 0 1 2022.9,417.6"/>
<path stroke-width="1.8" d="M2191.3,330.6 L2191.3,309.4 M2177.7,330.6 L2177.7,309.4 M2188.7,330.6 L2188.7,309.4 M2180.3,330.6 L2180.3,309.4 M2194.8,309.6 v20 M2191.3,309.6 v20 M2177.7,309.6 v20 M2174.2,309.6 v20 M2139.9,333.1 L2120.5,313.1 M2127.1,334.9 L2107.8,314.9 M2137.5,333.5 L2118.1,313.5 M2129.6,334.5 L2110.2,314.6 M2127.1,337.4 L2107.8,317.5 M2127.1,334.9 v2.6 M2107.8,314.9 v2.6 M2124.0,312.9 v20 M2120.7,313.3 v20 M2107.9,315.1 v20 M2104.6,315.5 v20 M2093.9,342.1 L2057.5,325.8 M2083.5,345.3 L2047.1,329.0 M2091.9,342.7 L2055.5,326.4 M2085.5,344.7 L2049.1,328.4 M2083.5,350.2 L2047.1,333.9 M2083.5,345.3 v4.8 M2047.1,329.0 v4.8 M2060.5,325.1 v20 M2057.8,325.9 v20 M2047.4,329.2 v20 M2044.7,330.0 v20 M2058.9,356.4 L2009.8,345.7 M2052.1,360.8 L2003.0,350.1 M2057.6,357.2 L2008.5,346.6 M2053.4,359.9 L2004.3,349.3 M2052.1,367.3 L2003.0,356.6 M2052.1,360.8 v6.5 M2003.0,350.1 v6.5 M2011.9,344.7 v20 M2010.2,345.8 v20 M2003.4,350.2 v20 M2001.6,351.4 v20 M2038.9,374.3 L1983.1,370.6 M2036.6,379.3 L1980.7,375.6 M2038.5,375.2 L1982.7,371.6 M2037.0,378.3 L1981.2,374.7 M2036.6,386.7 L1980.7,383.0 M2036.6,379.3 v7.4 M1980.7,375.6 v7.4 M1984.2,369.3 v20 M1983.6,370.6 v20 M1981.2,375.6 v20 M1980.6,376.9 v20 M2036.6,393.7 L1980.7,397.4 M2038.9,398.7 L1983.1,402.4 M2037.0,394.7 L1981.2,398.3 M2038.5,397.8 L1982.7,401.4 M2038.9,406.1 L1983.1,409.8 M2038.9,398.7 v7.4 M1983.1,402.4 v7.4 M2035.1,392.6 v2.1 M2035.6,393.8 v2.1 M2038.0,398.8 v2.1 M2038.5,399.9 v2.1 M2052.1,412.2 L2003.0,422.9 M2058.9,416.6 L2009.8,427.3 M2053.4,413.1 L2004.3,423.7 M2057.6,415.8 L2008.5,426.4 M2058.9,423.1 L2009.8,433.8 M2058.9,416.6 v6.5 M2009.8,427.3 v6.5 M2049.7,411.4 v6.0 M2051.2,412.4 v6.0 M2058.0,416.8 v6.0 M2059.5,417.8 v6.0 M2083.5,427.7 L2047.1,444.0 M2093.9,430.9 L2057.5,447.2 M2085.5,428.3 L2049.1,444.6 M2091.9,430.3 L2055.5,446.6 M2093.9,435.8 L2057.5,452.1 M2093.9,430.9 v4.8 M2057.5,447.2 v4.8 M2080.6,427.2 v9.2 M2082.9,428.0 v9.2 M2093.3,431.2 v9.2 M2095.6,432.0 v9.2 M2127.1,438.1 L2107.8,458.1 M2139.9,439.9 L2120.5,459.9 M2129.6,438.5 L2110.2,458.4 M2137.5,439.5 L2118.1,459.5 M2139.9,442.4 L2120.5,462.4 M2139.9,439.9 v2.6 M2120.5,459.9 v2.6 M2124.0,438.1 v11.3 M2126.8,438.5 v11.3 M2139.6,440.2 v11.3 M2142.4,440.6 v11.3 M2177.7,442.4 L2177.7,463.6 M2191.3,442.4 L2191.3,463.6 M2180.3,442.4 L2180.3,463.6 M2188.7,442.4 L2188.7,463.6 M2174.7,442.8 v12.0 M2177.7,442.8 v12.0 M2191.3,442.8 v12.0 M2194.3,442.8 v12.0 M2229.1,439.9 L2248.5,459.9 M2241.9,438.1 L2261.2,458.1 M2231.5,439.5 L2250.9,459.5 M2239.4,438.5 L2258.8,458.4 M2229.1,442.4 L2248.5,462.4 M2229.1,439.9 v2.6 M2248.5,459.9 v2.6 M2226.6,440.6 v11.3 M2229.4,440.2 v11.3 M2242.2,438.5 v11.3 M2245.0,438.1 v11.3 M2275.1,430.9 L2311.5,447.2 M2285.5,427.7 L2321.9,444.0 M2277.1,430.3 L2313.5,446.6 M2283.5,428.3 L2319.9,444.6 M2275.1,435.8 L2311.5,452.1 M2275.1,430.9 v4.8 M2311.5,447.2 v4.8 M2273.4,432.0 v9.2 M2275.7,431.2 v9.2 M2286.1,428.0 v9.2 M2288.4,427.2 v9.2 M2310.1,416.6 L2359.2,427.3 M2316.9,412.2 L2366.0,422.9 M2311.4,415.8 L2360.5,426.4 M2315.6,413.1 L2364.7,423.7 M2310.1,423.1 L2359.2,433.8 M2310.1,416.6 v6.5 M2359.2,427.3 v6.5 M2309.5,417.8 v6.0 M2311.0,416.8 v6.0 M2317.8,412.4 v6.0 M2319.3,411.4 v6.0 M2330.1,398.7 L2385.9,402.4 M2332.4,393.7 L2388.3,397.4 M2330.5,397.8 L2386.3,401.4 M2332.0,394.7 L2387.8,398.3 M2330.1,406.1 L2385.9,409.8 M2330.1,398.7 v7.4 M2385.9,402.4 v7.4 M2330.5,399.9 v2.1 M2331.0,398.8 v2.1 M2333.4,393.8 v2.1 M2333.9,392.6 v2.1 M2332.4,379.3 L2388.3,375.6 M2330.1,374.3 L2385.9,370.6 M2332.0,378.3 L2387.8,374.7 M2330.5,375.2 L2386.3,371.6 M2332.4,386.7 L2388.3,383.0 M2332.4,379.3 v7.4 M2388.3,375.6 v7.4 M2388.4,376.9 v20 M2387.8,375.6 v20 M2385.4,370.6 v20 M2384.8,369.3 v20 M2316.9,360.8 L2366.0,350.1 M2310.1,356.4 L2359.2,345.7 M2315.6,359.9 L2364.7,349.3 M2311.4,357.2 L2360.5,346.6 M2316.9,367.3 L2366.0,356.6 M2316.9,360.8 v6.5 M2366.0,350.1 v6.5 M2367.4,351.4 v20 M2365.6,350.2 v20 M2358.8,345.8 v20 M2357.1,344.7 v20 M2285.5,345.3 L2321.9,329.0 M2275.1,342.1 L2311.5,325.8 M2283.5,344.7 L2319.9,328.4 M2277.1,342.7 L2313.5,326.4 M2285.5,350.2 L2321.9,333.9 M2285.5,345.3 v4.8 M2321.9,329.0 v4.8 M2324.3,330.0 v20 M2321.6,329.2 v20 M2311.2,325.9 v20 M2308.5,325.1 v20 M2241.9,334.9 L2261.2,314.9 M2229.1,333.1 L2248.5,313.1 M2239.4,334.5 L2258.8,314.6 M2231.5,333.5 L2250.9,313.5 M2241.9,337.4 L2261.2,317.5 M2241.9,334.9 v2.6 M2261.2,314.9 v2.6 M2264.4,315.5 v20 M2261.1,315.1 v20 M2248.3,313.3 v20 M2245.0,312.9 v20"/>
<ellipse cx="2184.5" cy="384.5" rx="147.6" ry="55.35" fill="#fff" stroke-width="2.0"/>
<ellipse cx="2184.5" cy="383.8" rx="132" ry="49.5" stroke-width="2.0"/>
<ellipse cx="2184.5" cy="384.3" rx="125.8" ry="47.17" stroke-width="1.6"/>
<path stroke-width="1.6" d="M2083.6,415.4 A104.5,39.19 0 0 1 2285.4,415.4"/>
<path stroke-width="1.6" d="M2097.8,428.3 A88,33.00 0 0 1 2271.2,428.3"/>
<ellipse cx="2184.5" cy="567.6" rx="20" ry="7.2" fill="#1a1a1a" stroke-width="1.5"/>
<path fill="#1a1a1a" stroke="none" d="M2168.4,553 H2201.5 V566 Q2184.5,573 2168.4,566 Z"/>
<path fill="#fff" d="M2166.3,484 V549 Q2166.3,553 2170,554.5 Q2184.5,559 2199,554.5 Q2204.1,553 2204.1,549 V484 Z"/>
<path fill="#fff" d="M2161.0,475.6 V482.5 Q2161.0,487 2166.5,489.5 Q2184.5,494 2202.5,489.5 Q2208.0,487 2208.0,482.5 V475.6 Z"/>
<ellipse cx="2184.5" cy="475.6" rx="23.5" ry="8.6" fill="#fff"/>
<path stroke-width="1.3" d="M2161.5,478 A23.5,8.6 0 0 0 2207.5,478"/>
<path fill="#e31e26" stroke="#fff" stroke-width="1.6" d="M2179.2,415.3 H2189.9 V440.6 H2197.9 L2184.8,461.7 L2172.3,440.6 H2179.2 Z"/>
</g></svg>
<svg class="dw" viewBox="0 0 2913 2047" id="drawD">
<defs>
<pattern id="hE" width="11.6" height="11.6" patternUnits="userSpaceOnUse" patternTransform="rotate(-45)"><line x1="0" y1="0" x2="11.6" y2="0" stroke="#222" stroke-width="1.4"/></pattern>
<pattern id="hF" width="26" height="26" patternUnits="userSpaceOnUse" patternTransform="rotate(-45)"><line x1="0" y1="0" x2="26" y2="0" stroke="#1a1a1a" stroke-width="1.9"/></pattern>
<clipPath id="dcl"><circle cx="2326.7" cy="974.6" r="86.3"/></clipPath>
</defs>
<g fill="none" stroke="#222" stroke-width="1.2" stroke-linejoin="round">
<clipPath id="hc27"><path d="M1830.6,918 Q1830.6,915.4 1833,915.4 L1840,915.4 Q1841.7,915.4 1841.7,917.5 L1841.7,925.2 L2001.3,925.2 L2001.3,927.9 L2011.4,928.4 L2011.4,937.1 L2019.5,939.6 L2019.5,1003.4 L2043.5,1004.4 Q2046.4,1006 2046.4,1013 L2046.4,1045.7 Q2046,1052 2036.8,1060.1 L2026.8,1180.3 L2020.5,1188 L1999.3,1188.5 Q1988,1186 1987.8,1178.3 L1987.8,1054.7 L1999.3,1054.7 Q2002.8,1053 2002.8,1049.5 L2002.8,1038 Q2002.8,1033.2 1999.3,1033.2 L1987.8,1033.2 L1987.8,970.7 Q1987,960 1979.1,959.6 L1959.9,960.2 Q1954,961 1953.2,966.9 L1951.3,980.3 L1949.7,986.1 L1949.7,996.1 L1924.8,996.1 L1924.8,986.1 L1921.5,982.8 L1904.2,982.8 L1904.2,960.2 L1900.3,956.3 L1833,956.3 Q1830.6,956.3 1830.6,954 Z"/></clipPath><path clip-path="url(#hc27)" fill="none" stroke="#222" stroke-width="1.15" d="M1551.1,1188.5L1824.2,915.4M1567.5,1188.5L1840.6,915.4M1583.9,1188.5L1857.0,915.4M1600.3,1188.5L1873.4,915.4M1616.7,1188.5L1889.8,915.4M1633.1,1188.5L1906.2,915.4M1649.5,1188.5L1922.6,915.4M1665.9,1188.5L1939.0,915.4M1682.4,1188.5L1955.5,915.4M1698.8,1188.5L1971.9,915.4M1715.2,1188.5L1988.3,915.4M1731.6,1188.5L2004.7,915.4M1748.0,1188.5L2021.1,915.4M1764.4,1188.5L2037.5,915.4M1780.8,1188.5L2053.9,915.4M1797.2,1188.5L2070.3,915.4M1813.6,1188.5L2086.7,915.4M1830.0,1188.5L2103.1,915.4M1846.4,1188.5L2119.5,915.4M1862.8,1188.5L2135.9,915.4M1879.2,1188.5L2152.3,915.4M1895.6,1188.5L2168.7,915.4M1912.0,1188.5L2185.1,915.4M1928.4,1188.5L2201.5,915.4M1944.8,1188.5L2217.9,915.4M1961.2,1188.5L2234.3,915.4M1977.6,1188.5L2250.7,915.4M1994.0,1188.5L2267.1,915.4M2010.5,1188.5L2283.6,915.4M2026.9,1188.5L2300.0,915.4M2043.3,1188.5L2316.4,915.4M2059.7,1188.5L2332.8,915.4"/><path fill="none"  d="M1830.6,918 Q1830.6,915.4 1833,915.4 L1840,915.4 Q1841.7,915.4 1841.7,917.5 L1841.7,925.2 L2001.3,925.2 L2001.3,927.9 L2011.4,928.4 L2011.4,937.1 L2019.5,939.6 L2019.5,1003.4 L2043.5,1004.4 Q2046.4,1006 2046.4,1013 L2046.4,1045.7 Q2046,1052 2036.8,1060.1 L2026.8,1180.3 L2020.5,1188 L1999.3,1188.5 Q1988,1186 1987.8,1178.3 L1987.8,1054.7 L1999.3,1054.7 Q2002.8,1053 2002.8,1049.5 L2002.8,1038 Q2002.8,1033.2 1999.3,1033.2 L1987.8,1033.2 L1987.8,970.7 Q1987,960 1979.1,959.6 L1959.9,960.2 Q1954,961 1953.2,966.9 L1951.3,980.3 L1949.7,986.1 L1949.7,996.1 L1924.8,996.1 L1924.8,986.1 L1921.5,982.8 L1904.2,982.8 L1904.2,960.2 L1900.3,956.3 L1833,956.3 Q1830.6,956.3 1830.6,954 Z"/>
<clipPath id="hc28"><path d="M2539.5,918 Q2539.5,915.4 2537.1,915.4 L2530.1,915.4 Q2528.4,915.4 2528.4,917.5 L2528.4,925.2 L2368.8,925.2 L2368.8,927.9 L2358.7,928.4 L2358.7,937.1 L2350.6,939.6 L2350.6,1003.4 L2326.6,1004.4 Q2323.7,1006 2323.7,1013 L2323.7,1045.7 Q2324,1052 2333.3,1060.1 L2343.3,1180.3 L2349.6,1188 L2365.1,1188.5 L2365.1,1054.7 L2382.3,1054.7 L2382.3,970.7 Q2383,960 2391,959.6 L2410.2,960.2 Q2416,961 2416.9,966.9 L2418.8,980.3 L2420.4,986.1 L2420.4,996.1 L2445.3,996.1 L2445.3,986.1 L2448.6,982.8 L2465.9,982.8 L2465.9,960.2 L2469.8,956.3 L2537.1,956.3 Q2539.5,956.3 2539.5,954 Z"/></clipPath><path clip-path="url(#hc28)" fill="none" stroke="#222" stroke-width="1.15" d="M2043.3,1188.5L2316.4,915.4M2059.7,1188.5L2332.8,915.4M2076.1,1188.5L2349.2,915.4M2092.5,1188.5L2365.6,915.4M2108.9,1188.5L2382.0,915.4M2125.3,1188.5L2398.4,915.4M2141.7,1188.5L2414.8,915.4M2158.1,1188.5L2431.2,915.4M2174.5,1188.5L2447.6,915.4M2190.9,1188.5L2464.0,915.4M2207.3,1188.5L2480.4,915.4M2223.7,1188.5L2496.8,915.4M2240.1,1188.5L2513.2,915.4M2256.5,1188.5L2529.6,915.4M2272.9,1188.5L2546.0,915.4M2289.3,1188.5L2562.4,915.4M2305.7,1188.5L2578.8,915.4M2322.1,1188.5L2595.2,915.4M2338.5,1188.5L2611.6,915.4M2355.0,1188.5L2628.1,915.4M2371.4,1188.5L2644.5,915.4M2387.8,1188.5L2660.9,915.4M2404.2,1188.5L2677.3,915.4M2420.6,1188.5L2693.7,915.4M2437.0,1188.5L2710.1,915.4M2453.4,1188.5L2726.5,915.4M2469.8,1188.5L2742.9,915.4M2486.2,1188.5L2759.3,915.4M2502.6,1188.5L2775.7,915.4M2519.0,1188.5L2792.1,915.4M2535.4,1188.5L2808.5,915.4M2551.8,1188.5L2824.9,915.4"/><path fill="none"  d="M2539.5,918 Q2539.5,915.4 2537.1,915.4 L2530.1,915.4 Q2528.4,915.4 2528.4,917.5 L2528.4,925.2 L2368.8,925.2 L2368.8,927.9 L2358.7,928.4 L2358.7,937.1 L2350.6,939.6 L2350.6,1003.4 L2326.6,1004.4 Q2323.7,1006 2323.7,1013 L2323.7,1045.7 Q2324,1052 2333.3,1060.1 L2343.3,1180.3 L2349.6,1188 L2365.1,1188.5 L2365.1,1054.7 L2382.3,1054.7 L2382.3,970.7 Q2383,960 2391,959.6 L2410.2,960.2 Q2416,961 2416.9,966.9 L2418.8,980.3 L2420.4,986.1 L2420.4,996.1 L2445.3,996.1 L2445.3,986.1 L2448.6,982.8 L2465.9,982.8 L2465.9,960.2 L2469.8,956.3 L2537.1,956.3 Q2539.5,956.3 2539.5,954 Z"/>
<path fill="#fff" d="M1857.5,925.2 H1889.4 V956.3 H1857.5 Z M2480.7,925.2 H2512.6 V956.3 H2480.7 Z"/>
<path d="M1949.7,987.5 H1987.8 M1949.7,994.8 H1987.8 M1949.7,996.1 H1987.8 M1953.2,966.9 H1986.8 M2382.3,987.5 H2420.4 M2382.3,994.8 H2420.4 M2382.3,996.1 H2420.4 M2383.3,966.9 H2416.9"/>
<path d="M1840,915.4 H2530 M1841,916.9 H2529 M1841.7,923.6 H2528.4 M1841.7,925.2 H2528.4 M2011.4,928.4 H2358.7 M2011.4,937.1 H2358.7 M2019.5,939.6 H2350.6 M2019.5,940.9 H2350.6 M2019.5,945.7 H2350.6 M2047,953.4 H2323 M2049,957.4 H2321 M2045,963.6 H2325 M2042,971.5 H2328 M2030,972.7 H2340 M2042,973.9 H2328 M2044,982.3 H2326 M2047,988.6 H2323 M2047,991.9 H2323 M2021,999.6 H2349 M2021,1001.5 H2349 M2019.5,1003.4 H2350.6 M2046.4,1011.5 H2323.7 M2046.4,1045.7 H2323.7 M2036.8,1060.1 H2333.3 M2026.5,1183.1 H2343.5 M2020,1188.5 H2350"/>
<!-- seal lips left/right -->
<path stroke-width="1.3" d="M2020.5,953.4 H2044 L2048,957 L2044,966 L2036,969 L2021,972 M2021,977 L2036,980 L2044,983 L2048,991 L2044,992 H2021 M2024,940 V1003 M2045,953.4 Q2041,958 2044,963 M2045,992 Q2041,987 2044,982"/>
<path stroke-width="1.3" d="M2349.6,953.4 H2326 L2322,957 L2326,966 L2334,969 L2349,972 M2349,977 L2334,980 L2326,983 L2322,991 L2326,992 H2349 M2346,940 V1003"/>
<path stroke-width="2.2" d="M2366,1055 V1188.5"/>
<path d="M2367,1055.3 H2381.1 V1183 L2372,1188.5 H2365"/>
<!-- detail circle -->
<circle cx="2326.7" cy="974.6" r="86.3" fill="#fff" stroke="none"/>
<g clip-path="url(#dcl)">
<g transform="translate(2236,886) scale(0.11036)" stroke="#1a1a1a" stroke-width="13" stroke-linejoin="round" stroke-linecap="round">
<path d="M400,75 H1150 M300,120 H1130 M300,135 H1130 M200,190 H1120 M200,205 H1120 M150,235 H1115 M150,250 H1030 M50,400 H1020 M30,480 H545 M20,600 H575 M20,625 H625 M10,770 H640 M10,790 H820 M10,810 H640 M20,945 H600 M20,975 H600 M30,1085 H545 M50,1165 H1020 M150,1320 H1030 M150,1335 H1115 M200,1370 H1110 M200,1385 H1110 M250,1410 H1090 Q1118,1408 1122,1385"/>
<path d="M1030,240 V400 M1020,400 L990,690 H820 L760,680 L700,650 L690,590 L665,545 L635,500 Q640,465 700,450 Q730,430 705,400 H620 L545,480 L625,625 L640,770 M600,440 L650,460 M575,600 L620,625 M820,770 L890,695 M1000,580 L1120,470"/>
<path d="M1030,1330 V1165 M1020,1165 L990,875 H820 L815,890 L760,895 L700,920 L685,1000 L640,1040 L640,1075 Q650,1110 700,1120 Q730,1145 705,1170 H620 L545,1085 L600,975 L640,810 M640,790 L740,885 L760,895 M600,1130 L655,1105 M940,790 L1100,780 L1120,740 M1100,780 L1120,812 M960,795 L1115,920 M1030,1165 L1120,1255"/>
<rect x="820" y="765" width="120" height="45" rx="6" fill="#666" stroke-width="12"/>
<path stroke-width="20" stroke-dasharray="26 7" d="M1127,130 V1400"/>
<path d="M635,1410 L600,1560"/>
</g>
<clipPath id="hc29"><path d="M2361.3,880 H2420 V1070 H2302 L2306,1041.8 L2356,1041.8 L2361.3,1037 Z"/></clipPath><path clip-path="url(#hc29)" fill="none" stroke="#1a1a1a" stroke-width="1.8" d="M2118.6,1070.0L2308.6,880.0M2155.0,1070.0L2345.0,880.0M2191.3,1070.0L2381.3,880.0M2227.7,1070.0L2417.7,880.0M2264.0,1070.0L2454.0,880.0M2300.4,1070.0L2490.4,880.0M2336.7,1070.0L2526.7,880.0M2373.1,1070.0L2563.1,880.0M2409.4,1070.0L2599.4,880.0M2445.7,1070.0L2635.7,880.0"/>
</g>
<circle cx="2326.7" cy="974.6" r="86.3" fill="none" stroke="#1a1a1a" stroke-width="2.2"/>
<!-- red arrow -->
<path stroke="#e31e26" stroke-width="2.8" d="M2437.2,1059.2 L2366,1010"/>
<path fill="#e31e26" stroke="none" d="M2353.2,1001.1 L2380,1005.5 L2372,1011.5 L2371,1021.5 Z"/>
</g>
<text x="2444.5" y="1067.5" font-size="17.8" font-weight="500" fill="#222" textLength="180.5" lengthAdjust="spacing">轮毂油封背靠背压装</text>
</svg>
<svg class="dw" viewBox="0 0 2913 2047" id="drawE"><g fill="none" stroke="#1a1a1a" stroke-width="1.6" stroke-linejoin="round" stroke-linecap="round">
<path fill="#fff" stroke-width="1.7" d="M1716.9,1700 L1720.9,1849 A153.5,60 0 0 0 2027.9,1849 L2031.9,1700"/>
<path stroke-width="1.4" d="M2004.2,1724.5 A140.0,52.0 0 0 1 1744.6,1724.5"/>
<path stroke-width="1.4" d="M2001.3,1731.0 A140.0,52.0 0 0 1 1747.5,1731.0"/>
<path fill="#1a1a1a" stroke-width="1" d="M1678.9,1703.5 V1724.8 A6.8,2.7 0 0 0 1692.5,1724.8 V1703.5 A6.8,2.2 0 0 1 1678.9,1703.5 Z"/>
<path fill="#1a1a1a" stroke-width="1" d="M2056.3,1703.5 V1724.8 A6.8,2.7 0 0 0 2069.9,1724.8 V1703.5 A6.8,2.2 0 0 1 2056.3,1703.5 Z"/>
<path fill="#fff" stroke-width="1.4" d="M1694.7,1717 V1725.4 Q1694.7,1728.9 1696.9,1729.9 H1715.4 Q1717.6,1728.9 1717.6,1725.4 V1717 Z"/><path fill="#1a1a1a" stroke-width="1" d="M1695.9,1727.4 V1764.7 A10.2,4.1 0 0 0 1716.4,1764.7 V1727.4 A10.2,3.3 0 0 1 1695.9,1727.4 Z"/>
<path fill="#fff" stroke-width="1.4" d="M2031.2,1717 V1725.4 Q2031.2,1728.9 2033.4,1729.9 H2051.9 Q2054.1,1728.9 2054.1,1725.4 V1717 Z"/><path fill="#1a1a1a" stroke-width="1" d="M2032.4,1727.4 V1764.7 A10.2,4.1 0 0 0 2052.9,1764.7 V1727.4 A10.2,3.3 0 0 1 2032.4,1727.4 Z"/>
<path fill="#fff" stroke-width="1.4" d="M1762.9,1741 V1759.5 Q1762.9,1763.0 1765.1,1764.0 H1785.3 Q1787.5,1763.0 1787.5,1759.5 V1741 Z"/><path fill="#1a1a1a" stroke-width="1" d="M1764.1,1761.5 V1796.4 A11.1,4.4 0 0 0 1786.3,1796.4 V1761.5 A11.1,3.6 0 0 1 1764.1,1761.5 Z"/>
<path fill="#fff" stroke-width="1.4" d="M1961.3,1741 V1759.5 Q1961.3,1763.0 1963.5,1764.0 H1983.7 Q1985.9,1763.0 1985.9,1759.5 V1741 Z"/><path fill="#1a1a1a" stroke-width="1" d="M1962.5,1761.5 V1796.4 A11.1,4.4 0 0 0 1984.7,1796.4 V1761.5 A11.1,3.6 0 0 1 1962.5,1761.5 Z"/>
<path fill="#fff" stroke-width="1.4" d="M1862.0,1750 V1766.3 Q1862.0,1769.8 1864.2,1770.8 H1884.4 Q1886.6,1769.8 1886.6,1766.3 V1750 Z"/><path fill="#1a1a1a" stroke-width="1" d="M1863.2,1768.3 V1809.9 A11.1,4.4 0 0 0 1885.4,1809.9 V1768.3 A11.1,3.6 0 0 1 1863.2,1768.3 Z"/>
<path d="M1660.9,1656.5 A213.5,81.0 0 0 1 2087.9,1656.5 L2087.9,1668.0 A213.5,81.0 0 0 1 1660.9,1668.0 Z" fill="#fff" stroke-width="1.9"/>
<path stroke-width="1.3" d="M2083.3,1682.1 A211.0,80.0 0 0 1 1665.5,1682.1"/>
<ellipse cx="1874.4" cy="1656.5" rx="213.5" ry="81.0" fill="#fff" stroke-width="1.9"/>
<path stroke-width="1.2" d="M2086.6,1663.7 A212.5,80.5 0 0 1 1662.2,1663.7"/>
<ellipse cx="1874.4" cy="1645.0" rx="184.0" ry="70.0" fill="#fff" stroke-width="1.5"/>
<path stroke-width="1.3" d="M2050.5,1627.8 A180.0,68.5 0 1 1 1698.3,1627.8"/>
<path fill="#fff" d="M1667.1,1638.7 A15.3,6.1 0 0 1 1697.7,1638.7 V1642.7 A15.3,6.1 0 0 1 1667.1,1642.7 Z"/><ellipse cx="1682.4" cy="1638.7" rx="15.3" ry="6.1" fill="#fff"/><path stroke-width="1" d="M1667.5,1640.4 A15.3,6.1 0 0 0 1697.3,1640.4"/>
<path fill="#fff" d="M2051.1,1638.7 A15.3,6.1 0 0 1 2081.7,1638.7 V1642.7 A15.3,6.1 0 0 1 2051.1,1642.7 Z"/><ellipse cx="2066.4" cy="1638.7" rx="15.3" ry="6.1" fill="#fff"/><path stroke-width="1" d="M2051.5,1640.4 A15.3,6.1 0 0 0 2081.3,1640.4"/>
<path fill="#fff" d="M1687.6,1678.0 A15.3,6.1 0 0 1 1718.2,1678.0 V1682.0 A15.3,6.1 0 0 1 1687.6,1682.0 Z"/><ellipse cx="1702.9" cy="1678.0" rx="15.3" ry="6.1" fill="#fff"/><path stroke-width="1" d="M1688.0,1679.7 A15.3,6.1 0 0 0 1717.8,1679.7"/>
<path fill="#fff" d="M2030.6,1678.0 A15.3,6.1 0 0 1 2061.2,1678.0 V1682.0 A15.3,6.1 0 0 1 2030.6,1682.0 Z"/><ellipse cx="2045.9" cy="1678.0" rx="15.3" ry="6.1" fill="#fff"/><path stroke-width="1" d="M2031.0,1679.7 A15.3,6.1 0 0 0 2060.8,1679.7"/>
<path fill="#fff" d="M1757.5,1708.6 A15.3,6.1 0 0 1 1788.1,1708.6 V1712.6 A15.3,6.1 0 0 1 1757.5,1712.6 Z"/><ellipse cx="1772.8" cy="1708.6" rx="15.3" ry="6.1" fill="#fff"/><path stroke-width="1" d="M1757.9,1710.3 A15.3,6.1 0 0 0 1787.7,1710.3"/>
<path fill="#fff" d="M1960.7,1708.6 A15.3,6.1 0 0 1 1991.3,1708.6 V1712.6 A15.3,6.1 0 0 1 1960.7,1712.6 Z"/><ellipse cx="1976.0" cy="1708.6" rx="15.3" ry="6.1" fill="#fff"/><path stroke-width="1" d="M1961.1,1710.3 A15.3,6.1 0 0 0 1990.9,1710.3"/>
<path fill="#fff" d="M1859.1,1720.6 A15.3,6.1 0 0 1 1889.7,1720.6 V1724.6 A15.3,6.1 0 0 1 1859.1,1724.6 Z"/><ellipse cx="1874.4" cy="1720.6" rx="15.3" ry="6.1" fill="#fff"/><path stroke-width="1" d="M1859.5,1722.3 A15.3,6.1 0 0 0 1889.3,1722.3"/>
<path d="M1699.4,1612.0 A175.0,67.5 0 0 1 2049.4,1612.0 L2049.4,1637.0 A175.0,67.5 0 0 1 1699.4,1637.0 Z" fill="#fff" stroke-width="1.7"/>
<path stroke-width="1.2" d="M2048.4,1641.1 A175.0,67.5 0 0 1 1700.4,1641.1"/>
<ellipse cx="1874.4" cy="1612.0" rx="175.0" ry="67.5" fill="#fff" stroke-width="1.5"/>
<ellipse cx="1874.4" cy="1607.8" rx="172.0" ry="66.0" fill="#fff" stroke-width="1.9"/>
<polygon points="1874.4,1546.6 1822.6,1550.1 1777.0,1560.1 1743.2,1575.5 1725.2,1594.4 1725.2,1614.4 1743.2,1633.3 1777.0,1648.7 1822.6,1658.7 1874.4,1662.2 1926.2,1658.7 1971.8,1648.7 2005.6,1633.3 2023.6,1614.4 2023.6,1594.4 2005.6,1575.5 1971.8,1560.1 1926.2,1550.1" stroke="#1a9ad6" stroke-width="2.6"/>
<ellipse cx="1874.4" cy="1546.6" rx="11.2" ry="5.2" fill="#fff" stroke="#1a9ad6" stroke-width="2.6"/>
<ellipse cx="1874.4" cy="1546.6" rx="8.0" ry="3.3" stroke-width="1.4"/>
<path stroke-width="1" d="M1867.6,1547.6 A7.5,3 0 0 1 1881.2,1547.6"/>
<ellipse cx="1822.6" cy="1550.1" rx="11.2" ry="5.2" fill="#fff" stroke="#1a9ad6" stroke-width="2.6"/>
<ellipse cx="1822.6" cy="1550.1" rx="8.0" ry="3.3" stroke-width="1.4"/>
<path stroke-width="1" d="M1815.8,1551.1 A7.5,3 0 0 1 1829.4,1551.1"/>
<ellipse cx="1777.0" cy="1560.1" rx="11.2" ry="5.2" fill="#fff" stroke="#1a9ad6" stroke-width="2.6"/>
<ellipse cx="1777.0" cy="1560.1" rx="8.0" ry="3.3" stroke-width="1.4"/>
<path stroke-width="1" d="M1770.2,1561.1 A7.5,3 0 0 1 1783.8,1561.1"/>
<ellipse cx="1743.2" cy="1575.5" rx="11.2" ry="5.2" fill="#fff" stroke="#1a9ad6" stroke-width="2.6"/>
<ellipse cx="1743.2" cy="1575.5" rx="8.0" ry="3.3" stroke-width="1.4"/>
<path stroke-width="1" d="M1736.4,1576.5 A7.5,3 0 0 1 1750.0,1576.5"/>
<ellipse cx="1725.2" cy="1594.4" rx="11.2" ry="5.2" fill="#fff" stroke="#1a9ad6" stroke-width="2.6"/>
<ellipse cx="1725.2" cy="1594.4" rx="8.0" ry="3.3" stroke-width="1.4"/>
<path stroke-width="1" d="M1718.4,1595.4 A7.5,3 0 0 1 1732.0,1595.4"/>
<ellipse cx="1725.2" cy="1614.4" rx="11.2" ry="5.2" fill="#fff" stroke="#1a9ad6" stroke-width="2.6"/>
<ellipse cx="1725.2" cy="1614.4" rx="8.0" ry="3.3" stroke-width="1.4"/>
<path stroke-width="1" d="M1718.4,1615.4 A7.5,3 0 0 1 1732.0,1615.4"/>
<ellipse cx="1743.2" cy="1633.3" rx="11.2" ry="5.2" fill="#fff" stroke="#1a9ad6" stroke-width="2.6"/>
<ellipse cx="1743.2" cy="1633.3" rx="8.0" ry="3.3" stroke-width="1.4"/>
<path stroke-width="1" d="M1736.4,1634.3 A7.5,3 0 0 1 1750.0,1634.3"/>
<ellipse cx="1777.0" cy="1648.7" rx="11.2" ry="5.2" fill="#fff" stroke="#1a9ad6" stroke-width="2.6"/>
<ellipse cx="1777.0" cy="1648.7" rx="8.0" ry="3.3" stroke-width="1.4"/>
<path stroke-width="1" d="M1770.2,1649.7 A7.5,3 0 0 1 1783.8,1649.7"/>
<ellipse cx="1822.6" cy="1658.7" rx="11.2" ry="5.2" fill="#fff" stroke="#1a9ad6" stroke-width="2.6"/>
<ellipse cx="1822.6" cy="1658.7" rx="8.0" ry="3.3" stroke-width="1.4"/>
<path stroke-width="1" d="M1815.8,1659.7 A7.5,3 0 0 1 1829.4,1659.7"/>
<ellipse cx="1874.4" cy="1662.2" rx="11.2" ry="5.2" fill="#fff" stroke="#1a9ad6" stroke-width="2.6"/>
<ellipse cx="1874.4" cy="1662.2" rx="8.0" ry="3.3" stroke-width="1.4"/>
<path stroke-width="1" d="M1867.6,1663.2 A7.5,3 0 0 1 1881.2,1663.2"/>
<ellipse cx="1926.2" cy="1658.7" rx="11.2" ry="5.2" fill="#fff" stroke="#1a9ad6" stroke-width="2.6"/>
<ellipse cx="1926.2" cy="1658.7" rx="8.0" ry="3.3" stroke-width="1.4"/>
<path stroke-width="1" d="M1919.4,1659.7 A7.5,3 0 0 1 1933.0,1659.7"/>
<ellipse cx="1971.8" cy="1648.7" rx="11.2" ry="5.2" fill="#fff" stroke="#1a9ad6" stroke-width="2.6"/>
<ellipse cx="1971.8" cy="1648.7" rx="8.0" ry="3.3" stroke-width="1.4"/>
<path stroke-width="1" d="M1965.0,1649.7 A7.5,3 0 0 1 1978.6,1649.7"/>
<ellipse cx="2005.6" cy="1633.3" rx="11.2" ry="5.2" fill="#fff" stroke="#1a9ad6" stroke-width="2.6"/>
<ellipse cx="2005.6" cy="1633.3" rx="8.0" ry="3.3" stroke-width="1.4"/>
<path stroke-width="1" d="M1998.8,1634.3 A7.5,3 0 0 1 2012.4,1634.3"/>
<ellipse cx="2023.6" cy="1614.4" rx="11.2" ry="5.2" fill="#fff" stroke="#1a9ad6" stroke-width="2.6"/>
<ellipse cx="2023.6" cy="1614.4" rx="8.0" ry="3.3" stroke-width="1.4"/>
<path stroke-width="1" d="M2016.8,1615.4 A7.5,3 0 0 1 2030.4,1615.4"/>
<ellipse cx="2023.6" cy="1594.4" rx="11.2" ry="5.2" fill="#fff" stroke="#1a9ad6" stroke-width="2.6"/>
<ellipse cx="2023.6" cy="1594.4" rx="8.0" ry="3.3" stroke-width="1.4"/>
<path stroke-width="1" d="M2016.8,1595.4 A7.5,3 0 0 1 2030.4,1595.4"/>
<ellipse cx="2005.6" cy="1575.5" rx="11.2" ry="5.2" fill="#fff" stroke="#1a9ad6" stroke-width="2.6"/>
<ellipse cx="2005.6" cy="1575.5" rx="8.0" ry="3.3" stroke-width="1.4"/>
<path stroke-width="1" d="M1998.8,1576.5 A7.5,3 0 0 1 2012.4,1576.5"/>
<ellipse cx="1971.8" cy="1560.1" rx="11.2" ry="5.2" fill="#fff" stroke="#1a9ad6" stroke-width="2.6"/>
<ellipse cx="1971.8" cy="1560.1" rx="8.0" ry="3.3" stroke-width="1.4"/>
<path stroke-width="1" d="M1965.0,1561.1 A7.5,3 0 0 1 1978.6,1561.1"/>
<ellipse cx="1926.2" cy="1550.1" rx="11.2" ry="5.2" fill="#fff" stroke="#1a9ad6" stroke-width="2.6"/>
<ellipse cx="1926.2" cy="1550.1" rx="8.0" ry="3.3" stroke-width="1.4"/>
<path stroke-width="1" d="M1919.4,1551.1 A7.5,3 0 0 1 1933.0,1551.1"/>
<ellipse cx="1874.4" cy="1605.4" rx="139.4" ry="50.8" fill="#fff" stroke-width="1.6"/>
<path stroke-width="1.2" d="M1738.7,1611.5 A137.0,49.5 0 0 1 2010.1,1611.5"/>
<path stroke-width="1.2" d="M1983.3,1619.6 A110.0,40.5 0 0 1 1765.5,1619.6"/>
<path stroke-width="1.55" d="M1879.0,1568.5 L1879.0,1554.4 M1869.8,1568.5 L1869.8,1554.4 M1877.2,1568.5 L1877.2,1554.4 M1871.6,1568.5 L1871.6,1554.4 M1881.4,1554.4 v13 M1879.0,1554.4 v13 M1869.8,1554.4 v13 M1867.4,1554.4 v13 M1844.2,1570.1 L1831.4,1556.9 M1835.6,1571.3 L1822.7,1558.0 M1842.5,1570.4 L1829.7,1557.1 M1837.3,1571.1 L1824.4,1557.8 M1835.6,1573.0 L1822.7,1559.8 M1835.6,1571.3 v1.7 M1822.7,1558.0 v1.7 M1833.7,1556.6 v13 M1831.5,1556.9 v13 M1822.8,1558.0 v13 M1820.6,1558.3 v13 M1813.1,1576.0 L1789.0,1565.2 M1806.0,1578.2 L1781.9,1567.4 M1811.7,1576.4 L1787.6,1565.6 M1807.4,1577.7 L1783.3,1566.9 M1806.0,1581.4 L1781.9,1570.6 M1806.0,1578.2 v3.2 M1781.9,1567.4 v3.2 M1790.9,1564.6 v13 M1789.1,1565.2 v13 M1782.0,1567.4 v13 M1780.2,1567.9 v13 M1789.3,1585.4 L1756.8,1578.3 M1784.7,1588.3 L1752.2,1581.3 M1788.4,1586.0 L1755.9,1578.9 M1785.6,1587.7 L1753.1,1580.7 M1784.7,1592.6 L1752.2,1585.6 M1784.7,1588.3 v4.3 M1752.2,1581.3 v4.3 M1758.2,1577.6 v13 M1757.0,1578.3 v13 M1752.4,1581.3 v13 M1751.2,1582.0 v13 M1775.8,1597.2 L1738.9,1594.7 M1774.2,1600.5 L1737.3,1598.0 M1775.5,1597.8 L1738.6,1595.4 M1774.5,1599.8 L1737.6,1597.4 M1774.2,1605.4 L1737.3,1603.0 M1774.2,1600.5 v4.9 M1737.3,1598.0 v4.9 M1739.5,1593.8 v13 M1739.1,1594.7 v13 M1737.5,1598.0 v13 M1737.1,1598.9 v13 M1774.2,1609.9 L1737.3,1612.4 M1775.8,1613.2 L1738.9,1615.7 M1774.5,1610.6 L1737.6,1613.0 M1775.5,1612.6 L1738.6,1615.0 M1775.8,1618.1 L1738.9,1620.6 M1775.8,1613.2 v4.9 M1738.9,1615.7 v4.9 M1773.4,1609.2 v1.4 M1773.7,1609.9 v1.4 M1775.3,1613.2 v1.4 M1775.7,1613.9 v1.4 M1784.7,1622.1 L1752.2,1629.1 M1789.3,1625.0 L1756.8,1632.1 M1785.6,1622.7 L1753.1,1629.7 M1788.4,1624.4 L1755.9,1631.5 M1789.3,1629.3 L1756.8,1636.4 M1789.3,1625.0 v4.3 M1756.8,1632.1 v4.3 M1783.3,1621.5 v4.0 M1784.3,1622.1 v4.0 M1788.9,1625.0 v4.0 M1789.9,1625.6 v4.0 M1806.0,1632.2 L1781.9,1643.0 M1813.1,1634.4 L1789.0,1645.2 M1807.4,1632.7 L1783.3,1643.5 M1811.7,1634.0 L1787.6,1644.8 M1813.1,1637.6 L1789.0,1648.4 M1813.1,1634.4 v3.2 M1789.0,1645.2 v3.2 M1804.2,1631.8 v6.1 M1805.7,1632.2 v6.1 M1812.7,1634.4 v6.1 M1814.3,1634.8 v6.1 M1835.6,1639.1 L1822.7,1652.4 M1844.2,1640.3 L1831.4,1653.5 M1837.3,1639.3 L1824.4,1652.6 M1842.5,1640.0 L1829.7,1653.3 M1844.2,1642.0 L1831.4,1655.2 M1844.2,1640.3 v1.7 M1831.4,1653.5 v1.7 M1833.5,1638.9 v7.5 M1835.4,1639.1 v7.5 M1844.0,1640.3 v7.5 M1845.9,1640.5 v7.5 M1869.8,1641.9 L1869.8,1656.0 M1879.0,1641.9 L1879.0,1656.0 M1871.6,1641.9 L1871.6,1656.0 M1877.2,1641.9 L1877.2,1656.0 M1867.8,1641.9 v8.0 M1869.8,1641.9 v8.0 M1879.0,1641.9 v8.0 M1881.0,1641.9 v8.0 M1904.6,1640.3 L1917.4,1653.5 M1913.2,1639.1 L1926.1,1652.4 M1906.3,1640.0 L1919.1,1653.3 M1911.5,1639.3 L1924.4,1652.6 M1904.6,1642.0 L1917.4,1655.2 M1904.6,1640.3 v1.7 M1917.4,1653.5 v1.7 M1902.9,1640.5 v7.5 M1904.8,1640.3 v7.5 M1913.4,1639.1 v7.5 M1915.3,1638.9 v7.5 M1935.7,1634.4 L1959.8,1645.2 M1942.8,1632.2 L1966.9,1643.0 M1937.1,1634.0 L1961.2,1644.8 M1941.4,1632.7 L1965.5,1643.5 M1935.7,1637.6 L1959.8,1648.4 M1935.7,1634.4 v3.2 M1959.8,1645.2 v3.2 M1934.5,1634.8 v6.1 M1936.1,1634.4 v6.1 M1943.1,1632.2 v6.1 M1944.6,1631.8 v6.1 M1959.5,1625.0 L1992.0,1632.1 M1964.1,1622.1 L1996.6,1629.1 M1960.4,1624.4 L1992.9,1631.5 M1963.2,1622.7 L1995.7,1629.7 M1959.5,1629.3 L1992.0,1636.4 M1959.5,1625.0 v4.3 M1992.0,1632.1 v4.3 M1958.9,1625.6 v4.0 M1959.9,1625.0 v4.0 M1964.5,1622.1 v4.0 M1965.5,1621.5 v4.0 M1973.0,1613.2 L2009.9,1615.7 M1974.6,1609.9 L2011.5,1612.4 M1973.3,1612.6 L2010.2,1615.0 M1974.3,1610.6 L2011.2,1613.0 M1973.0,1618.1 L2009.9,1620.6 M1973.0,1613.2 v4.9 M2009.9,1615.7 v4.9 M1973.1,1613.9 v1.4 M1973.5,1613.2 v1.4 M1975.1,1609.9 v1.4 M1975.4,1609.2 v1.4 M1974.6,1600.5 L2011.5,1598.0 M1973.0,1597.2 L2009.9,1594.7 M1974.3,1599.8 L2011.2,1597.4 M1973.3,1597.8 L2010.2,1595.4 M1974.6,1605.4 L2011.5,1603.0 M1974.6,1600.5 v4.9 M2011.5,1598.0 v4.9 M2011.7,1598.9 v13 M2011.3,1598.0 v13 M2009.7,1594.7 v13 M2009.3,1593.8 v13 M1964.1,1588.3 L1996.6,1581.3 M1959.5,1585.4 L1992.0,1578.3 M1963.2,1587.7 L1995.7,1580.7 M1960.4,1586.0 L1992.9,1578.9 M1964.1,1592.6 L1996.6,1585.6 M1964.1,1588.3 v4.3 M1996.6,1581.3 v4.3 M1997.6,1582.0 v13 M1996.4,1581.3 v13 M1991.8,1578.3 v13 M1990.6,1577.6 v13 M1942.8,1578.2 L1966.9,1567.4 M1935.7,1576.0 L1959.8,1565.2 M1941.4,1577.7 L1965.5,1566.9 M1937.1,1576.4 L1961.2,1565.6 M1942.8,1581.4 L1966.9,1570.6 M1942.8,1578.2 v3.2 M1966.9,1567.4 v3.2 M1968.6,1567.9 v13 M1966.8,1567.4 v13 M1959.7,1565.2 v13 M1957.9,1564.6 v13 M1913.2,1571.3 L1926.1,1558.0 M1904.6,1570.1 L1917.4,1556.9 M1911.5,1571.1 L1924.4,1557.8 M1906.3,1570.4 L1919.1,1557.1 M1913.2,1573.0 L1926.1,1559.8 M1913.2,1571.3 v1.7 M1926.1,1558.0 v1.7 M1928.2,1558.3 v13 M1926.0,1558.0 v13 M1917.3,1556.9 v13 M1915.1,1556.6 v13"/>
<ellipse cx="1874.4" cy="1605.0" rx="99.9" ry="36.7" fill="#fff" stroke-width="1.7"/>
<ellipse cx="1874.4" cy="1603.0" rx="88.6" ry="31.4" stroke-width="1.5"/>
<ellipse cx="1874.4" cy="1602.6" rx="82.2" ry="28.6" stroke-width="1.3"/>
<path stroke-width="2.4" stroke-dasharray="1.6 2.6" d="M1950.7,1611.6 A79.0,27.5 0 0 1 1798.1,1611.6"/>
<ellipse cx="1874.4" cy="1601.0" rx="75.7" ry="25.4" stroke-width="1.5"/>
<ellipse cx="1874.4" cy="1598.5" rx="70.0" ry="23.0" stroke-width="1.2"/>
<ellipse cx="1874.4" cy="1596.5" rx="61.6" ry="20.1" fill="#fff" stroke-width="1.7"/>
<ellipse cx="1874.4" cy="1597.5" rx="57.6" ry="18.7" stroke-width="1.3"/>
<path stroke-width="1.3" d="M1841.6,1615.7 A40.0,11.0 0 0 1 1907.2,1615.7"/>
<path stroke-width="1.3" d="M1848.4,1619.6 A34.0,10.0 0 0 1 1900.4,1619.6"/>
<path fill="#fff" stroke-width="1.7" d="M2349.1,1700 L2353.1,1849 A153.5,60 0 0 0 2660.1,1849 L2664.1,1700"/>
<path stroke-width="1.4" d="M2636.4,1724.5 A140.0,52.0 0 0 1 2376.8,1724.5"/>
<path stroke-width="1.4" d="M2633.5,1731.0 A140.0,52.0 0 0 1 2379.7,1731.0"/>
<path fill="#1a1a1a" stroke-width="1" d="M2311.1,1703.5 V1724.8 A6.8,2.7 0 0 0 2324.7,1724.8 V1703.5 A6.8,2.2 0 0 1 2311.1,1703.5 Z"/>
<path fill="#1a1a1a" stroke-width="1" d="M2688.5,1703.5 V1724.8 A6.8,2.7 0 0 0 2702.1,1724.8 V1703.5 A6.8,2.2 0 0 1 2688.5,1703.5 Z"/>
<path fill="#fff" stroke-width="1.4" d="M2326.9,1717 V1725.4 Q2326.9,1728.9 2329.1,1729.9 H2347.6 Q2349.8,1728.9 2349.8,1725.4 V1717 Z"/><path fill="#1a1a1a" stroke-width="1" d="M2328.1,1727.4 V1764.7 A10.2,4.1 0 0 0 2348.6,1764.7 V1727.4 A10.2,3.3 0 0 1 2328.1,1727.4 Z"/>
<path fill="#fff" stroke-width="1.4" d="M2663.4,1717 V1725.4 Q2663.4,1728.9 2665.6,1729.9 H2684.1 Q2686.3,1728.9 2686.3,1725.4 V1717 Z"/><path fill="#1a1a1a" stroke-width="1" d="M2664.6,1727.4 V1764.7 A10.2,4.1 0 0 0 2685.1,1764.7 V1727.4 A10.2,3.3 0 0 1 2664.6,1727.4 Z"/>
<path fill="#fff" stroke-width="1.4" d="M2395.1,1741 V1759.5 Q2395.1,1763.0 2397.3,1764.0 H2417.5 Q2419.7,1763.0 2419.7,1759.5 V1741 Z"/><path fill="#1a1a1a" stroke-width="1" d="M2396.3,1761.5 V1796.4 A11.1,4.4 0 0 0 2418.5,1796.4 V1761.5 A11.1,3.6 0 0 1 2396.3,1761.5 Z"/>
<path fill="#fff" stroke-width="1.4" d="M2593.5,1741 V1759.5 Q2593.5,1763.0 2595.7,1764.0 H2615.9 Q2618.1,1763.0 2618.1,1759.5 V1741 Z"/><path fill="#1a1a1a" stroke-width="1" d="M2594.7,1761.5 V1796.4 A11.1,4.4 0 0 0 2616.9,1796.4 V1761.5 A11.1,3.6 0 0 1 2594.7,1761.5 Z"/>
<path fill="#fff" stroke-width="1.4" d="M2494.2,1750 V1766.3 Q2494.2,1769.8 2496.4,1770.8 H2516.6 Q2518.8,1769.8 2518.8,1766.3 V1750 Z"/><path fill="#1a1a1a" stroke-width="1" d="M2495.4,1768.3 V1809.9 A11.1,4.4 0 0 0 2517.6,1809.9 V1768.3 A11.1,3.6 0 0 1 2495.4,1768.3 Z"/>
<path d="M2293.1,1656.5 A213.5,81.0 0 0 1 2720.1,1656.5 L2720.1,1668.0 A213.5,81.0 0 0 1 2293.1,1668.0 Z" fill="#fff" stroke-width="1.9"/>
<path stroke-width="1.3" d="M2715.5,1682.1 A211.0,80.0 0 0 1 2297.7,1682.1"/>
<ellipse cx="2506.6" cy="1656.5" rx="213.5" ry="81.0" fill="#fff" stroke-width="1.9"/>
<path stroke-width="1.2" d="M2718.8,1663.7 A212.5,80.5 0 0 1 2294.4,1663.7"/>
<ellipse cx="2506.6" cy="1645.0" rx="184.0" ry="70.0" fill="#fff" stroke-width="1.5"/>
<path stroke-width="1.3" d="M2682.7,1627.8 A180.0,68.5 0 1 1 2330.5,1627.8"/>
<path fill="#fff" d="M2299.3,1638.7 A15.3,6.1 0 0 1 2329.9,1638.7 V1642.7 A15.3,6.1 0 0 1 2299.3,1642.7 Z"/><ellipse cx="2314.6" cy="1638.7" rx="15.3" ry="6.1" fill="#fff"/><path stroke-width="1" d="M2299.7,1640.4 A15.3,6.1 0 0 0 2329.5,1640.4"/>
<path fill="#fff" d="M2683.3,1638.7 A15.3,6.1 0 0 1 2713.9,1638.7 V1642.7 A15.3,6.1 0 0 1 2683.3,1642.7 Z"/><ellipse cx="2698.6" cy="1638.7" rx="15.3" ry="6.1" fill="#fff"/><path stroke-width="1" d="M2683.7,1640.4 A15.3,6.1 0 0 0 2713.5,1640.4"/>
<path fill="#fff" d="M2319.8,1678.0 A15.3,6.1 0 0 1 2350.4,1678.0 V1682.0 A15.3,6.1 0 0 1 2319.8,1682.0 Z"/><ellipse cx="2335.1" cy="1678.0" rx="15.3" ry="6.1" fill="#fff"/><path stroke-width="1" d="M2320.2,1679.7 A15.3,6.1 0 0 0 2350.0,1679.7"/>
<path fill="#fff" d="M2662.8,1678.0 A15.3,6.1 0 0 1 2693.4,1678.0 V1682.0 A15.3,6.1 0 0 1 2662.8,1682.0 Z"/><ellipse cx="2678.1" cy="1678.0" rx="15.3" ry="6.1" fill="#fff"/><path stroke-width="1" d="M2663.2,1679.7 A15.3,6.1 0 0 0 2693.0,1679.7"/>
<path fill="#fff" d="M2389.7,1708.6 A15.3,6.1 0 0 1 2420.3,1708.6 V1712.6 A15.3,6.1 0 0 1 2389.7,1712.6 Z"/><ellipse cx="2405.0" cy="1708.6" rx="15.3" ry="6.1" fill="#fff"/><path stroke-width="1" d="M2390.1,1710.3 A15.3,6.1 0 0 0 2419.9,1710.3"/>
<path fill="#fff" d="M2592.9,1708.6 A15.3,6.1 0 0 1 2623.5,1708.6 V1712.6 A15.3,6.1 0 0 1 2592.9,1712.6 Z"/><ellipse cx="2608.2" cy="1708.6" rx="15.3" ry="6.1" fill="#fff"/><path stroke-width="1" d="M2593.3,1710.3 A15.3,6.1 0 0 0 2623.1,1710.3"/>
<path fill="#fff" d="M2491.3,1720.6 A15.3,6.1 0 0 1 2521.9,1720.6 V1724.6 A15.3,6.1 0 0 1 2491.3,1724.6 Z"/><ellipse cx="2506.6" cy="1720.6" rx="15.3" ry="6.1" fill="#fff"/><path stroke-width="1" d="M2491.7,1722.3 A15.3,6.1 0 0 0 2521.5,1722.3"/>
<path d="M2331.6,1612.0 A175.0,67.5 0 0 1 2681.6,1612.0 L2681.6,1637.0 A175.0,67.5 0 0 1 2331.6,1637.0 Z" fill="#fff" stroke-width="1.7"/>
<path stroke-width="1.2" d="M2680.6,1641.1 A175.0,67.5 0 0 1 2332.6,1641.1"/>
<ellipse cx="2506.6" cy="1612.0" rx="175.0" ry="67.5" fill="#fff" stroke-width="1.5"/>
<ellipse cx="2506.6" cy="1607.8" rx="172.0" ry="66.0" fill="#fff" stroke-width="1.9"/>
<path d="M2330.6,1592.0 A176.0,67.0 0 0 1 2682.6,1592.0 L2682.6,1606.0 A176.0,67.0 0 0 1 2330.6,1606.0 Z" fill="#fff" stroke-width="1.7"/>
<ellipse cx="2506.6" cy="1592.0" rx="176.0" ry="67.0" fill="#fff" stroke-width="1.8"/>
<ellipse cx="2506.6" cy="1590.0" rx="170.0" ry="64.5" stroke-width="1.2"/>
<ellipse cx="2506.6" cy="1524.0" rx="13.6" ry="5.8" fill="#fff" stroke-width="1.3"/><path fill="#fff" stroke-width="1.5" d="M2496.5,1512.0 V1522.5 A10.1,4.2 0 0 0 2516.7,1522.5 V1512.0 Z"/><ellipse cx="2506.6" cy="1512.0" rx="10.1" ry="4.2" fill="#fff" stroke-width="1.5"/><ellipse cx="2506.6" cy="1512.3" rx="6.2" ry="2.6" stroke-width="1.1"/><path stroke-width="1" d="M2506.6,1509.5 V1514.5 M2501.1,1512.8 L2506.6,1514.2 L2512.1,1512.8"/>
<ellipse cx="2453.6" cy="1527.7" rx="13.6" ry="5.8" fill="#fff" stroke-width="1.3"/><path fill="#fff" stroke-width="1.5" d="M2443.5,1515.7 V1526.2 A10.1,4.2 0 0 0 2463.7,1526.2 V1515.7 Z"/><ellipse cx="2453.6" cy="1515.7" rx="10.1" ry="4.2" fill="#fff" stroke-width="1.5"/><ellipse cx="2453.6" cy="1516.0" rx="6.2" ry="2.6" stroke-width="1.1"/><path stroke-width="1" d="M2453.6,1513.2 V1518.2 M2448.0,1516.5 L2453.6,1517.9 L2459.1,1516.5"/>
<ellipse cx="2559.6" cy="1527.7" rx="13.6" ry="5.8" fill="#fff" stroke-width="1.3"/><path fill="#fff" stroke-width="1.5" d="M2549.5,1515.7 V1526.2 A10.1,4.2 0 0 0 2569.7,1526.2 V1515.7 Z"/><ellipse cx="2559.6" cy="1515.7" rx="10.1" ry="4.2" fill="#fff" stroke-width="1.5"/><ellipse cx="2559.6" cy="1516.0" rx="6.2" ry="2.6" stroke-width="1.1"/><path stroke-width="1" d="M2559.6,1513.2 V1518.2 M2554.1,1516.5 L2559.6,1517.9 L2565.2,1516.5"/>
<ellipse cx="2407.0" cy="1538.5" rx="13.6" ry="5.8" fill="#fff" stroke-width="1.3"/><path fill="#fff" stroke-width="1.5" d="M2396.9,1526.5 V1537.0 A10.1,4.2 0 0 0 2417.0,1537.0 V1526.5 Z"/><ellipse cx="2407.0" cy="1526.5" rx="10.1" ry="4.2" fill="#fff" stroke-width="1.5"/><ellipse cx="2407.0" cy="1526.8" rx="6.2" ry="2.6" stroke-width="1.1"/><path stroke-width="1" d="M2407.0,1524.0 V1529.0 M2401.4,1527.3 L2407.0,1528.7 L2412.5,1527.3"/>
<ellipse cx="2606.2" cy="1538.5" rx="13.6" ry="5.8" fill="#fff" stroke-width="1.3"/><path fill="#fff" stroke-width="1.5" d="M2596.2,1526.5 V1537.0 A10.1,4.2 0 0 0 2616.3,1537.0 V1526.5 Z"/><ellipse cx="2606.2" cy="1526.5" rx="10.1" ry="4.2" fill="#fff" stroke-width="1.5"/><ellipse cx="2606.2" cy="1526.8" rx="6.2" ry="2.6" stroke-width="1.1"/><path stroke-width="1" d="M2606.2,1524.0 V1529.0 M2600.7,1527.3 L2606.2,1528.7 L2611.8,1527.3"/>
<ellipse cx="2372.4" cy="1555.0" rx="13.6" ry="5.8" fill="#fff" stroke-width="1.3"/><path fill="#fff" stroke-width="1.5" d="M2362.3,1543.0 V1553.5 A10.1,4.2 0 0 0 2382.4,1553.5 V1543.0 Z"/><ellipse cx="2372.4" cy="1543.0" rx="10.1" ry="4.2" fill="#fff" stroke-width="1.5"/><ellipse cx="2372.4" cy="1543.3" rx="6.2" ry="2.6" stroke-width="1.1"/><path stroke-width="1" d="M2372.4,1540.5 V1545.5 M2366.8,1543.8 L2372.4,1545.2 L2377.9,1543.8"/>
<ellipse cx="2640.8" cy="1555.0" rx="13.6" ry="5.8" fill="#fff" stroke-width="1.3"/><path fill="#fff" stroke-width="1.5" d="M2630.8,1543.0 V1553.5 A10.1,4.2 0 0 0 2650.9,1553.5 V1543.0 Z"/><ellipse cx="2640.8" cy="1543.0" rx="10.1" ry="4.2" fill="#fff" stroke-width="1.5"/><ellipse cx="2640.8" cy="1543.3" rx="6.2" ry="2.6" stroke-width="1.1"/><path stroke-width="1" d="M2640.8,1540.5 V1545.5 M2635.3,1543.8 L2640.8,1545.2 L2646.4,1543.8"/>
<ellipse cx="2354.0" cy="1575.2" rx="13.6" ry="5.8" fill="#fff" stroke-width="1.3"/><path fill="#fff" stroke-width="1.5" d="M2343.9,1563.2 V1573.7 A10.1,4.2 0 0 0 2364.0,1573.7 V1563.2 Z"/><ellipse cx="2354.0" cy="1563.2" rx="10.1" ry="4.2" fill="#fff" stroke-width="1.5"/><ellipse cx="2354.0" cy="1563.5" rx="6.2" ry="2.6" stroke-width="1.1"/><path stroke-width="1" d="M2354.0,1560.7 V1565.7 M2348.4,1564.0 L2354.0,1565.4 L2359.5,1564.0"/>
<ellipse cx="2659.2" cy="1575.2" rx="13.6" ry="5.8" fill="#fff" stroke-width="1.3"/><path fill="#fff" stroke-width="1.5" d="M2649.2,1563.2 V1573.7 A10.1,4.2 0 0 0 2669.3,1573.7 V1563.2 Z"/><ellipse cx="2659.2" cy="1563.2" rx="10.1" ry="4.2" fill="#fff" stroke-width="1.5"/><ellipse cx="2659.2" cy="1563.5" rx="6.2" ry="2.6" stroke-width="1.1"/><path stroke-width="1" d="M2659.2,1560.7 V1565.7 M2653.7,1564.0 L2659.2,1565.4 L2664.8,1564.0"/>
<ellipse cx="2506.6" cy="1584.0" rx="139.0" ry="52.5" fill="#fff" stroke-width="1.6"/>
<ellipse cx="2506.6" cy="1581.5" rx="134.0" ry="50.2" stroke-width="1.2"/>
<path fill="#9c3d97" stroke="#1a1a1a" stroke-width="1.5" fill-rule="evenodd" d="M2377.2,1579 A129.4,48.5 0 1 0 2636.0,1579 A129.4,48.5 0 1 0 2377.2,1579 Z M2392.0,1576 A114.6,43 0 1 0 2621.2,1576 A114.6,43 0 1 0 2392.0,1576 Z"/>
<ellipse cx="2506.6" cy="1577.5" rx="121.5" ry="45.5" stroke="#5d1d5a" stroke-width="1.6"/>
<path stroke-width="1.2" d="M2615.2,1569.5 A109.0,40.0 0 1 1 2398.0,1569.5"/>
<path stroke-width="1.0" d="M2611.2,1568.7 A105.0,38.3 0 1 1 2402.0,1568.7"/>
<path stroke-width="1.2" d="M2607.2,1567.8 A101.0,36.6 0 1 1 2406.0,1567.8"/>
<path d="M2409.6,1530.0 A97.0,35.0 0 0 1 2603.6,1530.0 L2603.6,1553.5 A97.0,35.0 0 0 1 2409.6,1553.5 Z" fill="#fff" stroke-width="1.7"/>
<path d="M2407.3,1482.3 A99.3,35.7 0 0 1 2605.9,1482.3 L2605.9,1545.0 A99.3,35.7 0 0 1 2407.3,1545.0 Z" fill="#fff" stroke-width="1.9"/>
<path stroke-width="1.6" d="M2605.9,1482.8 V1544.0 M2605.5,1485.4 V1546.6 M2605.2,1486.5 V1547.7 M2604.2,1489.0 V1550.2 M2603.6,1490.0 V1551.2 M2601.8,1492.5 V1553.7 M2600.9,1493.5 V1554.7 M2598.4,1495.9 V1557.1 M2597.2,1496.9 V1558.1 M2594.1,1499.1 V1560.3 M2592.7,1500.1 V1561.3 M2589.0,1502.2 V1563.4 M2587.2,1503.1 V1564.3 M2582.9,1505.1 V1566.3 M2581.0,1506.0 V1567.2 M2576.1,1507.8 V1569.0 M2573.9,1508.5 V1569.7 M2568.6,1510.2 V1571.4 M2566.2,1510.9 V1572.1 M2560.4,1512.3 V1573.5 M2557.8,1512.9 V1574.1 M2551.7,1514.1 V1575.3 M2549.0,1514.6 V1575.8 M2542.5,1515.6 V1576.8 M2539.7,1516.0 V1577.2 M2532.9,1516.7 V1577.9 M2530.0,1517.0 V1578.2 M2523.1,1517.5 V1578.7 M2520.1,1517.7 V1578.9 M2513.1,1517.9 V1579.1 M2510.1,1518.0 V1579.2 M2503.1,1518.0 V1579.2 M2500.1,1517.9 V1579.1 M2493.1,1517.7 V1578.9 M2490.1,1517.5 V1578.7 M2483.2,1517.0 V1578.2 M2480.3,1516.7 V1577.9 M2473.5,1516.0 V1577.2 M2470.7,1515.6 V1576.8 M2464.2,1514.6 V1575.8 M2461.5,1514.1 V1575.3 M2455.4,1512.9 V1574.1 M2452.8,1512.3 V1573.5 M2447.0,1510.9 V1572.1 M2444.6,1510.2 V1571.4 M2439.3,1508.5 V1569.7 M2437.1,1507.8 V1569.0 M2432.2,1506.0 V1567.2 M2430.3,1505.1 V1566.3 M2426.0,1503.1 V1564.3 M2424.2,1502.2 V1563.4 M2420.5,1500.1 V1561.3 M2419.1,1499.1 V1560.3 M2416.0,1496.9 V1558.1 M2414.8,1495.9 V1557.1 M2412.3,1493.5 V1554.7 M2411.4,1492.5 V1553.7 M2409.6,1490.0 V1551.2 M2409.0,1489.0 V1550.2 M2408.0,1486.5 V1547.7 M2407.7,1485.4 V1546.6 M2407.3,1482.8 V1544.0"/>
<path stroke-width="1.2" d="M2605.9,1489.8 L2602.8,1495.1 L2605.5,1492.4 M2605.9,1544.0 L2605.5,1546.6 M2605.2,1493.5 L2601.8,1498.6 L2604.2,1496.0 M2605.2,1547.7 L2604.2,1550.2 M2603.6,1497.0 L2599.8,1502.0 L2601.8,1499.5 M2603.6,1551.2 L2601.8,1553.7 M2600.9,1500.5 L2596.9,1505.4 L2598.4,1502.9 M2600.9,1554.7 L2598.4,1557.1 M2597.2,1503.9 L2593.1,1508.6 L2594.1,1506.1 M2597.2,1558.1 L2594.1,1560.3 M2592.7,1507.1 L2588.3,1511.7 L2589.0,1509.2 M2592.7,1561.3 L2589.0,1563.4 M2587.2,1510.1 L2582.8,1514.5 L2582.9,1512.1 M2587.2,1564.3 L2582.9,1566.3 M2581.0,1513.0 L2576.4,1517.2 L2576.1,1514.8 M2581.0,1567.2 L2576.1,1569.0 M2573.9,1515.5 L2569.3,1519.6 L2568.6,1517.2 M2573.9,1569.7 L2568.6,1571.4 M2566.2,1517.9 L2561.6,1521.8 L2560.4,1519.3 M2566.2,1572.1 L2560.4,1573.5 M2557.8,1519.9 L2553.3,1523.6 L2551.7,1521.1 M2557.8,1574.1 L2551.7,1575.3 M2549.0,1521.6 L2544.6,1525.2 L2542.5,1522.6 M2549.0,1575.8 L2542.5,1576.8 M2539.7,1523.0 L2535.4,1526.4 L2532.9,1523.7 M2539.7,1577.2 L2532.9,1577.9 M2530.0,1524.0 L2526.0,1527.3 L2523.1,1524.5 M2530.0,1578.2 L2523.1,1578.7 M2520.1,1524.7 L2516.3,1527.8 L2513.1,1524.9 M2520.1,1578.9 L2513.1,1579.1 M2510.1,1525.0 L2506.6,1528.0 L2503.1,1525.0 M2510.1,1579.2 L2503.1,1579.2 M2500.1,1524.9 L2496.9,1527.8 L2493.1,1524.7 M2500.1,1579.1 L2493.1,1578.9 M2490.1,1524.5 L2487.2,1527.3 L2483.2,1524.0 M2490.1,1578.7 L2483.2,1578.2 M2480.3,1523.7 L2477.8,1526.4 L2473.5,1523.0 M2480.3,1577.9 L2473.5,1577.2 M2470.7,1522.6 L2468.6,1525.2 L2464.2,1521.6 M2470.7,1576.8 L2464.2,1575.8 M2461.5,1521.1 L2459.9,1523.6 L2455.4,1519.9 M2461.5,1575.3 L2455.4,1574.1 M2452.8,1519.3 L2451.6,1521.8 L2447.0,1517.9 M2452.8,1573.5 L2447.0,1572.1 M2444.6,1517.2 L2443.9,1519.6 L2439.3,1515.5 M2444.6,1571.4 L2439.3,1569.7 M2437.1,1514.8 L2436.8,1517.2 L2432.2,1513.0 M2437.1,1569.0 L2432.2,1567.2 M2430.3,1512.1 L2430.4,1514.5 L2426.0,1510.1 M2430.3,1566.3 L2426.0,1564.3 M2424.2,1509.2 L2424.9,1511.7 L2420.5,1507.1 M2424.2,1563.4 L2420.5,1561.3 M2419.1,1506.1 L2420.1,1508.6 L2416.0,1503.9 M2419.1,1560.3 L2416.0,1558.1 M2414.8,1502.9 L2416.3,1505.4 L2412.3,1500.5 M2414.8,1557.1 L2412.3,1554.7 M2411.4,1499.5 L2413.4,1502.0 L2409.6,1497.0 M2411.4,1553.7 L2409.6,1551.2 M2409.0,1496.0 L2411.4,1498.6 L2408.0,1493.5 M2409.0,1550.2 L2408.0,1547.7 M2407.7,1492.4 L2410.4,1495.1 L2407.3,1489.8 M2407.7,1546.6 L2407.3,1544.0"/>
<polygon points="2607.1,1482.3 2604.8,1484.1 2606.6,1486.0 2603.8,1487.6 2605.0,1489.6 2601.8,1491.1 2602.5,1493.2 2598.8,1494.5 2599.0,1496.6 2594.9,1497.8 2594.5,1499.9 2590.0,1500.9 2589.1,1503.0 2584.3,1503.8 2582.9,1505.9 2577.8,1506.6 2575.8,1508.6 2570.6,1509.0 2568.1,1511.0 2562.8,1511.2 2559.8,1513.1 2554.3,1513.1 2550.9,1514.9 2545.4,1514.6 2541.5,1516.3 2536.0,1515.9 2531.8,1517.4 2526.4,1516.8 2521.8,1518.2 2516.5,1517.3 2511.7,1518.6 2506.6,1517.5 2501.5,1518.6 2496.7,1517.3 2491.4,1518.2 2486.8,1516.8 2481.4,1517.4 2477.2,1515.9 2471.7,1516.3 2467.8,1514.6 2462.3,1514.9 2458.9,1513.1 2453.4,1513.1 2450.4,1511.2 2445.1,1511.0 2442.6,1509.0 2437.4,1508.6 2435.4,1506.6 2430.3,1505.9 2428.9,1503.8 2424.1,1503.0 2423.2,1500.9 2418.7,1499.9 2418.3,1497.8 2414.2,1496.6 2414.4,1494.5 2410.7,1493.2 2411.4,1491.1 2408.2,1489.6 2409.4,1487.6 2406.6,1486.0 2408.4,1484.1 2406.1,1482.3 2408.4,1480.5 2406.6,1478.6 2409.4,1477.0 2408.2,1475.0 2411.4,1473.5 2410.7,1471.4 2414.4,1470.1 2414.2,1468.0 2418.3,1466.8 2418.7,1464.7 2423.2,1463.7 2424.1,1461.6 2428.9,1460.8 2430.3,1458.7 2435.4,1458.0 2437.4,1456.0 2442.6,1455.6 2445.1,1453.6 2450.4,1453.4 2453.4,1451.5 2458.9,1451.5 2462.3,1449.7 2467.8,1450.0 2471.7,1448.3 2477.2,1448.7 2481.4,1447.2 2486.8,1447.8 2491.4,1446.4 2496.7,1447.3 2501.5,1446.0 2506.6,1447.1 2511.7,1446.0 2516.5,1447.3 2521.8,1446.4 2526.4,1447.8 2531.8,1447.2 2536.0,1448.7 2541.5,1448.3 2545.4,1450.0 2550.9,1449.7 2554.3,1451.5 2559.8,1451.5 2562.8,1453.4 2568.1,1453.6 2570.6,1455.6 2575.8,1456.0 2577.8,1458.0 2582.9,1458.7 2584.3,1460.8 2589.1,1461.6 2590.0,1463.7 2594.5,1464.7 2594.9,1466.8 2599.0,1468.0 2598.8,1470.1 2602.5,1471.4 2601.8,1473.5 2605.0,1475.0 2603.8,1477.0 2606.6,1478.6 2604.8,1480.5" fill="#fff" stroke-width="1.7"/>
<ellipse cx="2506.6" cy="1482.3" rx="96.1" ry="34.2" fill="#fff" stroke-width="1.3"/>
<ellipse cx="2506.6" cy="1482.7" rx="82.3" ry="29.2" stroke-width="1.8"/>
<ellipse cx="2506.6" cy="1483.2" rx="78.5" ry="27.6" stroke-width="1.2"/>
<ellipse cx="2354.0" cy="1597.3" rx="14.1" ry="6.0" fill="#fff" stroke-width="1.3"/><path fill="#fff" stroke-width="1.5" d="M2343.4,1584.8 V1595.8 A10.6,4.4 0 0 0 2364.6,1595.8 V1584.8 Z"/><ellipse cx="2354.0" cy="1584.8" rx="10.6" ry="4.4" fill="#fff" stroke-width="1.5"/><ellipse cx="2354.0" cy="1585.1" rx="6.6" ry="2.7" stroke-width="1.1"/><path stroke-width="1" d="M2354.0,1582.1 V1587.4 M2348.1,1585.6 L2354.0,1587.0 L2359.8,1585.6"/>
<ellipse cx="2659.2" cy="1597.3" rx="14.1" ry="6.0" fill="#fff" stroke-width="1.3"/><path fill="#fff" stroke-width="1.5" d="M2648.6,1584.8 V1595.8 A10.6,4.4 0 0 0 2669.8,1595.8 V1584.8 Z"/><ellipse cx="2659.2" cy="1584.8" rx="10.6" ry="4.4" fill="#fff" stroke-width="1.5"/><ellipse cx="2659.2" cy="1585.1" rx="6.6" ry="2.7" stroke-width="1.1"/><path stroke-width="1" d="M2659.2,1582.1 V1587.4 M2653.4,1585.6 L2659.2,1587.0 L2665.1,1585.6"/>
<ellipse cx="2372.4" cy="1617.5" rx="14.1" ry="6.0" fill="#fff" stroke-width="1.3"/><path fill="#fff" stroke-width="1.5" d="M2361.8,1605.0 V1616.0 A10.6,4.4 0 0 0 2383.0,1616.0 V1605.0 Z"/><ellipse cx="2372.4" cy="1605.0" rx="10.6" ry="4.4" fill="#fff" stroke-width="1.5"/><ellipse cx="2372.4" cy="1605.3" rx="6.6" ry="2.7" stroke-width="1.1"/><path stroke-width="1" d="M2372.4,1602.4 V1607.6 M2366.5,1605.8 L2372.4,1607.2 L2378.2,1605.8"/>
<ellipse cx="2640.8" cy="1617.5" rx="14.1" ry="6.0" fill="#fff" stroke-width="1.3"/><path fill="#fff" stroke-width="1.5" d="M2630.2,1605.0 V1616.0 A10.6,4.4 0 0 0 2651.4,1616.0 V1605.0 Z"/><ellipse cx="2640.8" cy="1605.0" rx="10.6" ry="4.4" fill="#fff" stroke-width="1.5"/><ellipse cx="2640.8" cy="1605.3" rx="6.6" ry="2.7" stroke-width="1.1"/><path stroke-width="1" d="M2640.8,1602.4 V1607.6 M2635.0,1605.8 L2640.8,1607.2 L2646.7,1605.8"/>
<ellipse cx="2407.0" cy="1634.0" rx="14.1" ry="6.0" fill="#fff" stroke-width="1.3"/><path fill="#fff" stroke-width="1.5" d="M2396.4,1621.5 V1632.5 A10.6,4.4 0 0 0 2417.6,1632.5 V1621.5 Z"/><ellipse cx="2407.0" cy="1621.5" rx="10.6" ry="4.4" fill="#fff" stroke-width="1.5"/><ellipse cx="2407.0" cy="1621.8" rx="6.6" ry="2.7" stroke-width="1.1"/><path stroke-width="1" d="M2407.0,1618.9 V1624.1 M2401.1,1622.3 L2407.0,1623.7 L2412.8,1622.3"/>
<ellipse cx="2606.2" cy="1634.0" rx="14.1" ry="6.0" fill="#fff" stroke-width="1.3"/><path fill="#fff" stroke-width="1.5" d="M2595.6,1621.5 V1632.5 A10.6,4.4 0 0 0 2616.8,1632.5 V1621.5 Z"/><ellipse cx="2606.2" cy="1621.5" rx="10.6" ry="4.4" fill="#fff" stroke-width="1.5"/><ellipse cx="2606.2" cy="1621.8" rx="6.6" ry="2.7" stroke-width="1.1"/><path stroke-width="1" d="M2606.2,1618.9 V1624.1 M2600.4,1622.3 L2606.2,1623.7 L2612.1,1622.3"/>
<ellipse cx="2453.6" cy="1644.8" rx="14.1" ry="6.0" fill="#fff" stroke-width="1.3"/><path fill="#fff" stroke-width="1.5" d="M2443.0,1632.3 V1643.3 A10.6,4.4 0 0 0 2464.2,1643.3 V1632.3 Z"/><ellipse cx="2453.6" cy="1632.3" rx="10.6" ry="4.4" fill="#fff" stroke-width="1.5"/><ellipse cx="2453.6" cy="1632.6" rx="6.6" ry="2.7" stroke-width="1.1"/><path stroke-width="1" d="M2453.6,1629.6 V1634.9 M2447.8,1633.1 L2453.6,1634.5 L2459.4,1633.1"/>
<ellipse cx="2559.6" cy="1644.8" rx="14.1" ry="6.0" fill="#fff" stroke-width="1.3"/><path fill="#fff" stroke-width="1.5" d="M2549.0,1632.3 V1643.3 A10.6,4.4 0 0 0 2570.2,1643.3 V1632.3 Z"/><ellipse cx="2559.6" cy="1632.3" rx="10.6" ry="4.4" fill="#fff" stroke-width="1.5"/><ellipse cx="2559.6" cy="1632.6" rx="6.6" ry="2.7" stroke-width="1.1"/><path stroke-width="1" d="M2559.6,1629.6 V1634.9 M2553.8,1633.1 L2559.6,1634.5 L2565.4,1633.1"/>
<ellipse cx="2506.6" cy="1626" rx="14.5" ry="5.6" fill="#fff" stroke-width="1.5"/>
<path fill="#fff" stroke-width="1.5" d="M2501.2,1624 V1650 Q2506.6,1654 2512.0,1650 V1624 Z"/>
<ellipse cx="2506.6" cy="1624.5" rx="8.6" ry="3.2" fill="#fff" stroke-width="1.3"/>
<path fill="#fff" stroke-width="1.5" d="M2501.4,1608 V1623 Q2506.6,1626 2511.8,1623 V1608 Z"/>
<path fill="#fff" stroke-width="1.5" d="M2496.0,1596.0 V1607.0 A10.6,4.4 0 0 0 2517.2,1607.0 V1596.0 Z"/><ellipse cx="2506.6" cy="1596.0" rx="10.6" ry="4.4" fill="#fff" stroke-width="1.5"/><ellipse cx="2506.6" cy="1596.3" rx="6.6" ry="2.7" stroke-width="1.1"/><path stroke-width="1" d="M2506.6,1593.4 V1598.6 M2500.8,1596.8 L2506.6,1598.2 L2512.4,1596.8"/>
<path stroke="#e31e26" stroke-width="2" d="M2489.7,1611.8 A19.5,6.5 0 0 1 2503.9,1602.1"/>
<path stroke="#e31e26" stroke-width="2" d="M2521.5,1604.3 A19.5,6.5 0 0 1 2511.6,1614.8"/>
<path fill="#e31e26" stroke="none" d="M2505.6,1618 L2515.6,1611.5 L2514.6,1620.5 Z M2492.6,1613 l5,-1 l-1,5 Z"/>
<path fill="#e31e26" stroke="#fff" stroke-width="1.4" d="M2503.0,1540.8 H2511.9 V1563.8 H2520.7 L2507.3,1585 L2494.2,1563.8 H2503.0 Z"/>
<path stroke="#e31e26" stroke-width="2.3" d="M1813.1,1502.3 L1841.1,1535.3"/><path fill="#e31e26" stroke="none" d="M1850.7,1546.6 L1833.6,1536.2 L1841.1,1535.3 L1843.2,1528.0 Z"/>
<path stroke="#e31e26" stroke-width="2.3" d="M1968.3,1527.9 L1936.7,1567.4"/><path fill="#e31e26" stroke="none" d="M1927.4,1579.0 L1934.4,1560.2 L1936.7,1567.4 L1944.2,1568.1 Z"/>
<path stroke="#e31e26" stroke-width="2.3" d="M2343.9,1498.4 L2365.9,1526.6"/><path fill="#e31e26" stroke="none" d="M2375.0,1538.3 L2358.4,1527.2 L2365.9,1526.6 L2368.3,1519.4 Z"/>
<path stroke="#e31e26" stroke-width="2.3" d="M2621.3,1425.9 L2597.1,1456.1"/><path fill="#e31e26" stroke="none" d="M2587.8,1467.7 L2594.8,1448.9 L2597.1,1456.1 L2604.6,1456.8 Z"/>
<path stroke="#e31e26" stroke-width="2.3" d="M2676.1,1511.5 L2639.7,1555.2"/><path fill="#e31e26" stroke="none" d="M2630.2,1566.6 L2637.5,1548.0 L2639.7,1555.2 L2647.2,1556.0 Z"/>
</g>
<text x="1615.3" y="1501.6" font-size="18.8" font-weight="500" fill="#222" textLength="195" lengthAdjust="spacing">涂密封胶Loctite 5699</text>
<text x="1970" y="1523.4" font-size="18.8" font-weight="500" fill="#222" textLength="94.5" lengthAdjust="spacing">内轴承内圈</text>
<text x="2264.6" y="1440.5" font-size="18.8" font-weight="500" fill="#222" textLength="75.3" lengthAdjust="spacing">紧固螺栓</text>
<text x="2122.9" y="1467.4" font-size="18.8" font-weight="500" fill="#222" textLength="216.5" lengthAdjust="spacing">涂螺纹紧固胶 Loctite 277</text>
<text x="2157.9" y="1492.8" font-size="18.8" font-weight="500" fill="#222" textLength="182" lengthAdjust="spacing">拧紧力矩305±25Nm</text>
<text x="2618.9" y="1421.1" font-size="18.8" font-weight="500" fill="#222" textLength="94.3" lengthAdjust="spacing">刹车主动端</text>
<text x="2675.4" y="1504.5" font-size="18.8" font-weight="500" fill="#222" textLength="75" lengthAdjust="spacing">浮动油封</text>
</svg>

</body>
</html>
